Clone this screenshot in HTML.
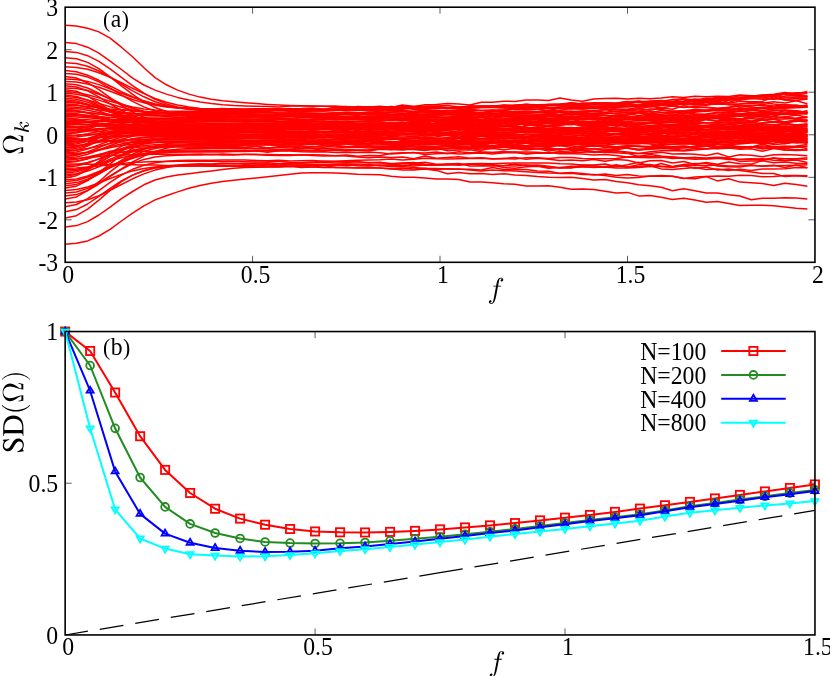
<!DOCTYPE html>
<html><head><meta charset="utf-8"><title>chart</title>
<style>html,body{margin:0;padding:0;background:#fff}svg{display:block;will-change:transform}text{font-family:"Liberation Serif",serif;fill:#000}</style>
</head><body>
<svg width="830" height="676" viewBox="0 0 830 676">
<rect x="0" y="0" width="830" height="676" fill="#fff"/>
<g stroke-width="0.8" stroke="#333" fill="none">
<path d="M65.15,49.7h6.5 M814.9,49.7h-6.5"/>
<path d="M65.15,92.2h6.5 M814.9,92.2h-6.5"/>
<path d="M65.15,134.8h6.5 M814.9,134.8h-6.5"/>
<path d="M65.15,177.3h6.5 M814.9,177.3h-6.5"/>
<path d="M65.15,219.8h6.5 M814.9,219.8h-6.5"/>
<path d="M252.6,262.3v-6.5 M252.6,7.2v6.5"/>
<path d="M440.0,262.3v-6.5 M440.0,7.2v6.5"/>
<path d="M627.5,262.3v-6.5 M627.5,7.2v6.5"/>
</g>
<g fill="none" stroke="#ff0000" stroke-width="1.5" stroke-linejoin="round">
<polyline points="65.2,244.3 76.4,243.3 87.6,240.9 98.9,236.0 110.1,229.4 121.4,221.0 132.6,213.2 143.9,205.9 155.1,199.9 166.4,195.8 177.6,191.9 188.9,188.3 200.1,185.5 211.4,183.3 222.6,181.6 233.8,180.2 245.1,179.1 256.3,178.0 267.6,176.8 278.8,175.5 290.1,174.3 301.3,173.1 312.6,172.7 323.8,172.8 335.1,173.1 346.3,173.4 357.6,174.2 368.8,174.4 380.0,174.8 391.3,176.2 402.5,177.2 413.8,177.2 425.0,178.1 436.3,179.0 447.5,179.1 458.8,179.5 470.0,181.9 481.3,182.0 492.5,182.7 503.8,183.7 515.0,184.2 526.2,186.0 537.5,185.9 548.7,185.7 560.0,187.3 571.2,189.3 582.5,189.1 593.7,189.5 605.0,191.2 616.2,193.1 627.5,192.4 638.7,195.9 650.0,195.6 661.2,197.2 672.4,199.4 683.7,198.2 694.9,200.0 706.2,202.3 717.4,201.5 728.7,203.4 739.9,205.6 751.2,205.2 762.4,205.2 773.7,205.7 784.9,207.1 796.2,208.3 807.4,209.0"/>
<polyline points="65.2,227.0 76.4,225.6 87.6,221.6 98.9,215.0 110.1,207.2 121.4,198.7 132.6,191.5 143.9,184.8 155.1,180.0 166.4,177.1 177.6,175.1 188.9,173.7 200.1,172.3 211.4,170.9 222.6,169.5 233.8,168.3 245.1,167.6 256.3,167.2 267.6,166.9 278.8,167.1 290.1,166.3 301.3,167.4 312.6,167.0 323.8,165.6 335.1,167.6 346.3,167.8 357.6,167.7 368.8,168.0 380.0,167.9 391.3,168.8 402.5,169.9 413.8,169.9 425.0,169.0 436.3,170.4 447.5,173.7 458.8,172.6 470.0,173.8 481.3,173.4 492.5,174.6 503.8,173.7 515.0,174.9 526.2,175.5 537.5,176.5 548.7,177.2 560.0,177.5 571.2,177.3 582.5,178.6 593.7,180.0 605.0,179.6 616.2,181.4 627.5,182.8 638.7,184.7 650.0,185.8 661.2,187.3 672.4,190.8 683.7,188.8 694.9,190.7 706.2,192.9 717.4,193.0 728.7,194.8 739.9,196.0 751.2,199.7 762.4,198.3 773.7,198.3 784.9,197.8 796.2,198.1 807.4,199.0"/>
<polyline points="65.2,218.1 76.4,215.7 87.6,209.2 98.9,200.1 110.1,190.4 121.4,181.7 132.6,175.1 143.9,170.7 155.1,168.1 166.4,166.7 177.6,166.2 188.9,166.0 200.1,165.8 211.4,165.7 222.6,165.6 233.8,166.0 245.1,165.8 256.3,165.5 267.6,164.6 278.8,166.3 290.1,164.8 301.3,165.2 312.6,164.6 323.8,165.0 335.1,164.6 346.3,164.1 357.6,164.9 368.8,165.2 380.0,165.6 391.3,166.7 402.5,166.5 413.8,167.5 425.0,168.4 436.3,168.5 447.5,169.1 458.8,169.0 470.0,170.1 481.3,170.9 492.5,169.9 503.8,170.7 515.0,170.9 526.2,171.7 537.5,172.6 548.7,173.1 560.0,173.3 571.2,172.6 582.5,173.5 593.7,175.0 605.0,174.1 616.2,175.4 627.5,174.4 638.7,175.9 650.0,176.3 661.2,175.6 672.4,176.3 683.7,178.5 694.9,177.0 706.2,176.6 717.4,180.9 728.7,178.7 739.9,182.1 751.2,182.8 762.4,183.4 773.7,185.4 784.9,183.2 796.2,184.6 807.4,186.2"/>
<polyline points="65.2,211.8 76.4,209.6 87.6,204.0 98.9,196.4 110.1,188.4 121.4,181.0 132.6,175.1 143.9,170.7 155.1,167.7 166.4,165.9 177.6,164.9 188.9,164.3 200.1,164.1 211.4,164.4 222.6,163.8 233.8,163.6 245.1,164.3 256.3,163.9 267.6,163.9 278.8,165.0 290.1,164.0 301.3,163.9 312.6,164.6 323.8,164.9 335.1,164.5 346.3,165.8 357.6,165.0 368.8,164.5 380.0,165.7 391.3,164.4 402.5,165.1 413.8,166.0 425.0,164.7 436.3,165.2 447.5,164.3 458.8,165.3 470.0,163.9 481.3,165.3 492.5,164.8 503.8,165.7 515.0,165.9 526.2,165.1 537.5,166.1 548.7,166.9 560.0,167.8 571.2,166.2 582.5,166.6 593.7,167.5 605.0,167.1 616.2,168.1 627.5,167.9 638.7,167.6 650.0,166.4 661.2,166.3 672.4,167.1 683.7,165.5 694.9,165.3 706.2,165.8 717.4,164.9 728.7,166.1 739.9,165.9 751.2,165.4 762.4,165.9 773.7,165.2 784.9,167.5 796.2,165.0 807.4,167.7"/>
<polyline points="65.2,206.8 76.4,204.5 87.6,198.6 98.9,190.7 110.1,182.4 121.4,175.0 132.6,169.3 143.9,165.2 155.1,162.7 166.4,161.3 177.6,160.6 188.9,160.2 200.1,160.3 211.4,160.2 222.6,159.9 233.8,159.9 245.1,160.0 256.3,160.4 267.6,160.7 278.8,160.2 290.1,161.0 301.3,160.8 312.6,160.4 323.8,161.2 335.1,161.3 346.3,160.8 357.6,160.2 368.8,160.0 380.0,159.8 391.3,159.1 402.5,160.0 413.8,159.2 425.0,158.3 436.3,158.7 447.5,158.9 458.8,158.7 470.0,158.6 481.3,158.3 492.5,159.1 503.8,158.4 515.0,157.6 526.2,159.2 537.5,158.3 548.7,159.2 560.0,160.5 571.2,159.9 582.5,160.7 593.7,159.4 605.0,161.2 616.2,159.4 627.5,160.3 638.7,162.9 650.0,160.8 661.2,160.5 672.4,163.0 683.7,161.6 694.9,164.4 706.2,162.5 717.4,164.2 728.7,161.9 739.9,163.8 751.2,164.1 762.4,160.6 773.7,158.1 784.9,160.6 796.2,158.7 807.4,159.2"/>
<polyline points="65.2,202.7 76.4,202.1 87.6,199.7 98.9,195.7 110.1,190.3 121.4,184.5 132.6,178.8 143.9,173.9 155.1,170.1 166.4,167.4 177.6,165.7 188.9,164.7 200.1,164.1 211.4,164.0 222.6,163.2 233.8,163.7 245.1,163.4 256.3,163.3 267.6,162.7 278.8,163.8 290.1,163.1 301.3,163.1 312.6,162.7 323.8,162.6 335.1,163.1 346.3,162.7 357.6,163.0 368.8,162.6 380.0,163.1 391.3,163.5 402.5,163.3 413.8,163.2 425.0,162.2 436.3,164.2 447.5,163.9 458.8,163.4 470.0,166.1 481.3,166.1 492.5,166.0 503.8,165.6 515.0,163.9 526.2,165.6 537.5,165.1 548.7,166.3 560.0,168.1 571.2,168.0 582.5,165.3 593.7,165.8 605.0,166.9 616.2,164.8 627.5,167.0 638.7,164.7 650.0,164.4 661.2,166.6 672.4,167.2 683.7,165.8 694.9,168.2 706.2,167.1 717.4,169.9 728.7,168.9 739.9,170.6 751.2,172.1 762.4,173.6 773.7,173.5 784.9,176.6 796.2,175.7 807.4,176.5"/>
<polyline points="65.2,199.1 76.4,196.9 87.6,190.7 98.9,181.7 110.1,171.9 121.4,163.1 132.6,156.1 143.9,151.3 155.1,148.4 166.4,146.8 177.6,146.1 188.9,145.5 200.1,145.5 211.4,145.6 222.6,145.2 233.8,145.5 245.1,145.3 256.3,144.9 267.6,145.0 278.8,145.2 290.1,145.0 301.3,144.9 312.6,144.0 323.8,144.9 335.1,144.8 346.3,143.4 357.6,144.9 368.8,143.8 380.0,143.9 391.3,144.9 402.5,145.7 413.8,144.7 425.0,144.8 436.3,144.7 447.5,145.5 458.8,145.0 470.0,145.1 481.3,147.0 492.5,145.6 503.8,146.8 515.0,147.7 526.2,147.8 537.5,146.5 548.7,147.4 560.0,149.7 571.2,148.4 582.5,148.7 593.7,148.7 605.0,149.0 616.2,149.8 627.5,147.8 638.7,149.2 650.0,148.7 661.2,148.8 672.4,148.8 683.7,147.4 694.9,147.7 706.2,148.6 717.4,148.7 728.7,148.2 739.9,146.7 751.2,147.3 762.4,147.1 773.7,147.5 784.9,147.2 796.2,146.6 807.4,148.6"/>
<polyline points="65.2,196.0 76.4,194.6 87.6,190.5 98.9,184.0 110.1,176.4 121.4,169.3 132.6,163.5 143.9,159.4 155.1,157.0 166.4,155.8 177.6,155.2 188.9,155.0 200.1,155.1 211.4,154.4 222.6,154.9 233.8,155.1 245.1,154.3 256.3,154.3 267.6,155.3 278.8,155.6 290.1,155.6 301.3,154.8 312.6,155.6 323.8,156.0 335.1,155.7 346.3,155.0 357.6,156.3 368.8,155.5 380.0,155.7 391.3,153.2 402.5,152.8 413.8,152.8 425.0,153.0 436.3,152.0 447.5,153.5 458.8,151.7 470.0,152.7 481.3,152.7 492.5,152.4 503.8,152.4 515.0,151.9 526.2,152.0 537.5,152.3 548.7,153.2 560.0,151.7 571.2,151.9 582.5,150.3 593.7,151.3 605.0,152.0 616.2,149.2 627.5,146.0 638.7,146.5 650.0,146.2 661.2,144.4 672.4,144.1 683.7,143.5 694.9,143.8 706.2,142.8 717.4,142.3 728.7,142.7 739.9,142.9 751.2,141.3 762.4,140.2 773.7,140.3 784.9,140.3 796.2,140.2 807.4,137.9"/>
<polyline points="65.2,193.1 76.4,192.0 87.6,188.4 98.9,182.9 110.1,176.0 121.4,168.8 132.6,162.0 143.9,156.1 155.1,151.5 166.4,148.2 177.6,145.9 188.9,144.5 200.1,143.7 211.4,143.2 222.6,142.9 233.8,142.4 245.1,142.8 256.3,142.3 267.6,142.6 278.8,142.4 290.1,142.8 301.3,141.8 312.6,143.3 323.8,143.0 335.1,143.2 346.3,143.2 357.6,143.4 368.8,143.5 380.0,143.2 391.3,144.6 402.5,143.7 413.8,144.3 425.0,143.3 436.3,144.1 447.5,143.9 458.8,143.3 470.0,142.4 481.3,143.0 492.5,143.3 503.8,142.7 515.0,144.5 526.2,145.5 537.5,144.4 548.7,144.3 560.0,143.0 571.2,142.1 582.5,144.6 593.7,141.2 605.0,141.6 616.2,141.8 627.5,141.8 638.7,139.8 650.0,141.6 661.2,142.0 672.4,141.4 683.7,142.9 694.9,141.3 706.2,142.0 717.4,141.7 728.7,141.7 739.9,143.2 751.2,140.8 762.4,143.0 773.7,140.9 784.9,143.3 796.2,141.1 807.4,142.3"/>
<polyline points="65.2,190.5 76.4,189.6 87.6,186.9 98.9,183.0 110.1,178.5 121.4,174.4 132.6,170.9 143.9,168.5 155.1,166.9 166.4,166.0 177.6,165.6 188.9,165.4 200.1,165.4 211.4,165.6 222.6,166.2 233.8,166.3 245.1,166.0 256.3,166.9 267.6,166.7 278.8,166.8 290.1,166.4 301.3,166.6 312.6,167.0 323.8,167.6 335.1,167.2 346.3,167.6 357.6,168.1 368.8,167.5 380.0,168.1 391.3,169.0 402.5,167.9 413.8,168.9 425.0,168.3 436.3,169.7 447.5,168.7 458.8,169.3 470.0,169.3 481.3,170.1 492.5,167.5 503.8,169.4 515.0,169.5 526.2,169.5 537.5,171.0 548.7,171.3 560.0,173.6 571.2,173.2 582.5,174.5 593.7,174.5 605.0,175.4 616.2,177.3 627.5,178.0 638.7,177.6 650.0,176.1 661.2,176.3 672.4,176.2 683.7,178.2 694.9,178.7 706.2,176.5 717.4,176.1 728.7,176.2 739.9,175.2 751.2,175.6 762.4,176.7 773.7,176.4 784.9,175.4 796.2,175.5 807.4,175.8"/>
<polyline points="65.2,188.0 76.4,186.2 87.6,180.7 98.9,172.7 110.1,163.8 121.4,155.2 132.6,148.2 143.9,143.1 155.1,139.7 166.4,137.6 177.6,136.4 188.9,135.4 200.1,135.2 211.4,135.0 222.6,134.5 233.8,134.0 245.1,134.4 256.3,134.1 267.6,135.0 278.8,135.6 290.1,134.7 301.3,134.9 312.6,135.2 323.8,136.3 335.1,136.7 346.3,136.5 357.6,135.8 368.8,135.0 380.0,134.6 391.3,135.3 402.5,133.9 413.8,133.8 425.0,133.6 436.3,133.7 447.5,134.0 458.8,133.8 470.0,134.5 481.3,134.8 492.5,135.8 503.8,135.2 515.0,135.5 526.2,136.8 537.5,134.4 548.7,134.4 560.0,132.8 571.2,132.9 582.5,132.2 593.7,131.4 605.0,131.2 616.2,131.5 627.5,132.9 638.7,130.2 650.0,133.8 661.2,133.4 672.4,133.1 683.7,133.9 694.9,134.1 706.2,134.1 717.4,133.5 728.7,134.0 739.9,130.9 751.2,134.1 762.4,132.2 773.7,132.3 784.9,132.3 796.2,131.4 807.4,130.6"/>
<polyline points="65.2,185.8 76.4,184.4 87.6,180.2 98.9,174.1 110.1,167.3 121.4,161.2 132.6,156.5 143.9,153.4 155.1,151.6 166.4,150.7 177.6,150.3 188.9,150.1 200.1,150.1 211.4,150.3 222.6,150.3 233.8,150.4 245.1,150.2 256.3,150.7 267.6,150.4 278.8,150.1 290.1,150.4 301.3,150.9 312.6,150.7 323.8,150.4 335.1,150.2 346.3,149.9 357.6,150.4 368.8,150.9 380.0,149.3 391.3,149.8 402.5,149.5 413.8,149.4 425.0,150.0 436.3,149.3 447.5,148.7 458.8,147.9 470.0,148.3 481.3,150.2 492.5,148.0 503.8,147.3 515.0,146.4 526.2,146.6 537.5,145.1 548.7,145.7 560.0,145.6 571.2,145.8 582.5,147.5 593.7,145.7 605.0,145.8 616.2,146.7 627.5,145.8 638.7,145.9 650.0,146.7 661.2,146.4 672.4,146.6 683.7,146.2 694.9,146.9 706.2,146.0 717.4,148.4 728.7,146.9 739.9,148.2 751.2,147.1 762.4,146.0 773.7,146.4 784.9,146.5 796.2,146.1 807.4,144.4"/>
<polyline points="65.2,183.7 76.4,182.6 87.6,179.2 98.9,173.7 110.1,167.1 121.4,160.3 132.6,154.2 143.9,149.4 155.1,145.9 166.4,143.7 177.6,142.5 188.9,141.8 200.1,141.8 211.4,141.9 222.6,142.2 233.8,141.7 245.1,141.2 256.3,141.1 267.6,140.9 278.8,140.8 290.1,140.7 301.3,140.3 312.6,139.8 323.8,140.7 335.1,139.5 346.3,140.7 357.6,140.2 368.8,140.7 380.0,140.8 391.3,141.4 402.5,141.7 413.8,141.3 425.0,141.9 436.3,139.6 447.5,141.3 458.8,141.3 470.0,141.0 481.3,141.2 492.5,142.0 503.8,140.4 515.0,140.0 526.2,141.4 537.5,140.5 548.7,141.6 560.0,140.9 571.2,140.8 582.5,140.7 593.7,140.7 605.0,141.4 616.2,139.7 627.5,140.3 638.7,139.0 650.0,138.0 661.2,138.2 672.4,138.5 683.7,136.3 694.9,137.6 706.2,137.3 717.4,137.5 728.7,135.9 739.9,137.1 751.2,139.5 762.4,136.8 773.7,135.6 784.9,135.9 796.2,138.2 807.4,137.2"/>
<polyline points="65.2,181.6 76.4,180.5 87.6,177.3 98.9,172.8 110.1,167.7 121.4,162.6 132.6,158.2 143.9,154.7 155.1,152.1 166.4,150.3 177.6,149.2 188.9,148.6 200.1,148.2 211.4,148.3 222.6,148.0 233.8,148.5 245.1,148.4 256.3,148.5 267.6,148.7 278.8,149.6 290.1,149.0 301.3,148.4 312.6,148.5 323.8,148.5 335.1,147.9 346.3,147.6 357.6,147.3 368.8,148.0 380.0,147.4 391.3,147.4 402.5,147.7 413.8,148.0 425.0,147.1 436.3,147.6 447.5,145.7 458.8,147.1 470.0,147.2 481.3,147.3 492.5,145.6 503.8,147.5 515.0,146.8 526.2,147.1 537.5,146.5 548.7,146.4 560.0,145.5 571.2,147.5 582.5,146.5 593.7,145.4 605.0,147.4 616.2,147.4 627.5,148.3 638.7,150.1 650.0,148.2 661.2,147.3 672.4,149.0 683.7,150.3 694.9,148.5 706.2,148.7 717.4,147.8 728.7,147.9 739.9,149.2 751.2,148.7 762.4,151.2 773.7,148.6 784.9,149.9 796.2,149.5 807.4,150.1"/>
<polyline points="65.2,179.7 76.4,178.9 87.6,176.0 98.9,171.5 110.1,166.3 121.4,161.5 132.6,157.7 143.9,155.0 155.1,153.4 166.4,152.5 177.6,152.0 188.9,151.6 200.1,151.6 211.4,151.0 222.6,150.9 233.8,150.7 245.1,150.5 256.3,151.1 267.6,152.2 278.8,150.7 290.1,150.3 301.3,150.3 312.6,151.0 323.8,150.6 335.1,150.2 346.3,151.1 357.6,150.2 368.8,149.9 380.0,148.5 391.3,149.6 402.5,148.2 413.8,149.2 425.0,150.4 436.3,148.3 447.5,150.7 458.8,150.1 470.0,149.8 481.3,151.8 492.5,152.6 503.8,151.4 515.0,152.3 526.2,153.4 537.5,153.3 548.7,152.9 560.0,151.8 571.2,152.9 582.5,152.3 593.7,151.7 605.0,152.4 616.2,152.7 627.5,153.4 638.7,156.5 650.0,154.6 661.2,156.1 672.4,157.0 683.7,158.4 694.9,159.3 706.2,159.1 717.4,158.3 728.7,159.6 739.9,159.5 751.2,159.6 762.4,158.7 773.7,160.2 784.9,160.7 796.2,160.0 807.4,162.6"/>
<polyline points="65.2,177.9 76.4,175.7 87.6,170.2 98.9,163.2 110.1,156.3 121.4,150.7 132.6,146.6 143.9,144.0 155.1,142.5 166.4,141.8 177.6,141.5 188.9,141.4 200.1,141.3 211.4,141.7 222.6,141.5 233.8,141.6 245.1,142.1 256.3,142.7 267.6,141.6 278.8,141.6 290.1,140.7 301.3,140.9 312.6,141.0 323.8,140.3 335.1,141.5 346.3,140.7 357.6,140.9 368.8,139.8 380.0,140.6 391.3,142.9 402.5,140.5 413.8,142.1 425.0,141.3 436.3,142.3 447.5,142.0 458.8,141.9 470.0,142.4 481.3,143.2 492.5,141.7 503.8,142.4 515.0,142.8 526.2,142.4 537.5,143.4 548.7,141.7 560.0,143.2 571.2,143.3 582.5,143.5 593.7,144.7 605.0,145.1 616.2,144.1 627.5,144.1 638.7,143.3 650.0,144.1 661.2,145.5 672.4,144.2 683.7,144.1 694.9,144.1 706.2,145.0 717.4,146.9 728.7,145.0 739.9,147.3 751.2,146.5 762.4,149.0 773.7,147.0 784.9,148.8 796.2,146.9 807.4,146.1"/>
<polyline points="65.2,176.2 76.4,174.6 87.6,169.3 98.9,161.4 110.1,153.1 121.4,146.3 132.6,141.8 143.9,139.5 155.1,138.4 166.4,138.0 177.6,137.9 188.9,137.7 200.1,137.7 211.4,137.6 222.6,137.4 233.8,137.5 245.1,137.5 256.3,136.8 267.6,137.5 278.8,137.1 290.1,137.4 301.3,137.7 312.6,137.7 323.8,137.9 335.1,137.5 346.3,137.8 357.6,137.7 368.8,136.8 380.0,137.4 391.3,136.6 402.5,137.0 413.8,136.5 425.0,137.3 436.3,136.7 447.5,135.0 458.8,136.1 470.0,136.0 481.3,136.5 492.5,136.2 503.8,137.7 515.0,137.7 526.2,137.0 537.5,136.9 548.7,138.1 560.0,138.3 571.2,138.7 582.5,138.8 593.7,139.8 605.0,140.2 616.2,139.2 627.5,140.6 638.7,140.0 650.0,139.7 661.2,140.0 672.4,138.8 683.7,139.3 694.9,138.9 706.2,139.7 717.4,139.4 728.7,138.2 739.9,138.3 751.2,139.2 762.4,138.4 773.7,138.7 784.9,138.9 796.2,137.5 807.4,139.6"/>
<polyline points="65.2,174.5 76.4,173.8 87.6,171.1 98.9,166.7 110.1,161.3 121.4,156.1 132.6,151.8 143.9,148.9 155.1,147.1 166.4,146.1 177.6,145.8 188.9,145.7 200.1,146.0 211.4,145.9 222.6,146.6 233.8,146.4 245.1,147.2 256.3,146.3 267.6,147.9 278.8,146.7 290.1,146.8 301.3,147.9 312.6,147.0 323.8,145.8 335.1,145.7 346.3,146.9 357.6,146.0 368.8,146.2 380.0,146.0 391.3,145.8 402.5,144.5 413.8,145.7 425.0,146.2 436.3,146.5 447.5,146.0 458.8,146.0 470.0,147.0 481.3,145.2 492.5,146.6 503.8,145.6 515.0,144.6 526.2,143.0 537.5,144.0 548.7,143.0 560.0,141.7 571.2,141.9 582.5,141.3 593.7,141.2 605.0,141.9 616.2,141.6 627.5,141.3 638.7,142.1 650.0,140.5 661.2,143.5 672.4,142.2 683.7,139.6 694.9,140.0 706.2,140.4 717.4,138.9 728.7,137.7 739.9,138.8 751.2,137.2 762.4,137.9 773.7,137.8 784.9,137.7 796.2,136.5 807.4,138.9"/>
<polyline points="65.2,172.9 76.4,171.7 87.6,168.5 98.9,164.1 110.1,159.3 121.4,154.8 132.6,151.1 143.9,148.4 155.1,146.7 166.4,145.7 177.6,145.1 188.9,144.9 200.1,144.7 211.4,144.6 222.6,144.7 233.8,144.8 245.1,143.9 256.3,144.2 267.6,143.9 278.8,144.2 290.1,145.0 301.3,144.8 312.6,143.8 323.8,145.2 335.1,145.4 346.3,146.5 357.6,146.5 368.8,147.0 380.0,147.5 391.3,147.9 402.5,148.6 413.8,148.8 425.0,148.6 436.3,148.3 447.5,148.5 458.8,147.1 470.0,147.8 481.3,147.6 492.5,148.0 503.8,146.7 515.0,148.3 526.2,148.9 537.5,148.8 548.7,148.1 560.0,150.1 571.2,148.9 582.5,150.6 593.7,152.5 605.0,152.0 616.2,150.7 627.5,153.2 638.7,153.6 650.0,151.8 661.2,150.7 672.4,150.4 683.7,151.0 694.9,149.9 706.2,149.1 717.4,147.7 728.7,146.3 739.9,148.2 751.2,146.8 762.4,148.6 773.7,148.0 784.9,150.1 796.2,150.5 807.4,150.0"/>
<polyline points="65.2,171.3 76.4,170.5 87.6,167.5 98.9,162.5 110.1,156.4 121.4,150.3 132.6,145.3 143.9,141.7 155.1,139.6 166.4,138.4 177.6,138.0 188.9,137.7 200.1,138.0 211.4,137.8 222.6,138.0 233.8,138.2 245.1,138.0 256.3,138.0 267.6,137.5 278.8,138.4 290.1,137.7 301.3,137.6 312.6,136.5 323.8,137.7 335.1,136.5 346.3,137.9 357.6,136.8 368.8,137.1 380.0,136.9 391.3,137.8 402.5,138.7 413.8,138.8 425.0,137.3 436.3,138.3 447.5,139.3 458.8,138.3 470.0,139.6 481.3,139.8 492.5,140.2 503.8,138.6 515.0,137.9 526.2,140.0 537.5,138.9 548.7,138.2 560.0,137.1 571.2,140.5 582.5,138.4 593.7,137.8 605.0,139.6 616.2,138.1 627.5,138.4 638.7,138.2 650.0,139.7 661.2,139.2 672.4,140.7 683.7,140.1 694.9,141.1 706.2,142.1 717.4,143.6 728.7,141.0 739.9,141.8 751.2,142.2 762.4,143.8 773.7,143.3 784.9,141.0 796.2,141.7 807.4,142.9"/>
<polyline points="65.2,169.8 76.4,169.2 87.6,167.3 98.9,164.2 110.1,160.8 121.4,157.7 132.6,155.3 143.9,153.8 155.1,152.9 166.4,152.5 177.6,152.1 188.9,152.0 200.1,152.0 211.4,151.9 222.6,152.1 233.8,151.5 245.1,151.5 256.3,151.0 267.6,151.1 278.8,151.1 290.1,150.9 301.3,151.7 312.6,151.9 323.8,151.8 335.1,152.6 346.3,152.2 357.6,152.6 368.8,152.2 380.0,152.8 391.3,154.1 402.5,153.2 413.8,152.4 425.0,154.5 436.3,153.8 447.5,153.3 458.8,154.1 470.0,153.5 481.3,153.0 492.5,153.9 503.8,152.7 515.0,152.6 526.2,153.9 537.5,153.1 548.7,152.5 560.0,153.8 571.2,153.7 582.5,153.9 593.7,155.0 605.0,154.5 616.2,155.5 627.5,157.1 638.7,156.3 650.0,156.4 661.2,156.9 672.4,158.6 683.7,158.0 694.9,157.5 706.2,158.8 717.4,158.2 728.7,158.2 739.9,159.5 751.2,158.8 762.4,159.6 773.7,158.0 784.9,158.8 796.2,158.8 807.4,157.8"/>
<polyline points="65.2,168.3 76.4,168.0 87.6,167.1 98.9,165.9 110.1,164.7 121.4,163.5 132.6,162.6 143.9,162.0 155.1,161.6 166.4,161.4 177.6,161.3 188.9,161.2 200.1,161.3 211.4,161.2 222.6,161.5 233.8,161.6 245.1,161.7 256.3,161.9 267.6,161.8 278.8,161.2 290.1,162.4 301.3,162.8 312.6,162.0 323.8,161.2 335.1,161.6 346.3,161.4 357.6,161.5 368.8,162.7 380.0,162.3 391.3,164.1 402.5,163.1 413.8,162.6 425.0,164.2 436.3,164.9 447.5,164.9 458.8,164.4 470.0,164.2 481.3,163.7 492.5,164.9 503.8,167.4 515.0,168.3 526.2,166.8 537.5,166.3 548.7,168.3 560.0,167.5 571.2,167.4 582.5,166.9 593.7,167.0 605.0,166.4 616.2,166.0 627.5,166.9 638.7,166.6 650.0,165.8 661.2,168.9 672.4,169.4 683.7,168.4 694.9,167.6 706.2,169.5 717.4,168.9 728.7,170.4 739.9,169.2 751.2,170.6 762.4,169.1 773.7,169.1 784.9,168.8 796.2,167.5 807.4,167.7"/>
<polyline points="65.2,166.9 76.4,166.0 87.6,163.3 98.9,158.9 110.1,153.7 121.4,148.8 132.6,144.7 143.9,141.8 155.1,140.0 166.4,139.0 177.6,138.6 188.9,138.7 200.1,138.4 211.4,138.4 222.6,138.3 233.8,138.9 245.1,138.9 256.3,138.7 267.6,139.1 278.8,139.2 290.1,139.0 301.3,139.7 312.6,138.5 323.8,139.8 335.1,139.4 346.3,139.7 357.6,140.0 368.8,139.4 380.0,139.2 391.3,139.1 402.5,139.7 413.8,140.5 425.0,139.8 436.3,141.4 447.5,140.6 458.8,140.4 470.0,140.4 481.3,141.6 492.5,141.9 503.8,139.7 515.0,141.2 526.2,142.0 537.5,141.6 548.7,140.5 560.0,139.5 571.2,140.3 582.5,139.1 593.7,139.8 605.0,139.4 616.2,138.8 627.5,139.7 638.7,139.0 650.0,139.5 661.2,139.6 672.4,138.4 683.7,139.7 694.9,138.8 706.2,139.6 717.4,139.0 728.7,139.5 739.9,138.0 751.2,139.1 762.4,139.2 773.7,137.7 784.9,142.4 796.2,140.7 807.4,142.5"/>
<polyline points="65.2,165.5 76.4,164.7 87.6,162.4 98.9,159.1 110.1,155.6 121.4,152.4 132.6,149.9 143.9,148.3 155.1,147.5 166.4,147.1 177.6,147.1 188.9,147.3 200.1,147.1 211.4,147.5 222.6,147.4 233.8,147.2 245.1,147.4 256.3,146.4 267.6,147.9 278.8,147.5 290.1,147.0 301.3,146.2 312.6,146.8 323.8,147.2 335.1,145.7 346.3,146.7 357.6,146.3 368.8,145.7 380.0,146.6 391.3,146.5 402.5,146.0 413.8,146.5 425.0,146.3 436.3,147.2 447.5,146.7 458.8,147.5 470.0,147.9 481.3,145.8 492.5,146.8 503.8,146.7 515.0,148.3 526.2,147.9 537.5,148.5 548.7,149.8 560.0,148.8 571.2,150.2 582.5,150.4 593.7,151.9 605.0,150.4 616.2,151.1 627.5,151.9 638.7,153.4 650.0,153.5 661.2,152.3 672.4,154.0 683.7,153.8 694.9,154.2 706.2,155.6 717.4,153.3 728.7,156.9 739.9,154.8 751.2,155.2 762.4,156.8 773.7,154.8 784.9,154.5 796.2,154.9 807.4,155.7"/>
<polyline points="65.2,164.1 76.4,164.1 87.6,164.2 98.9,164.3 110.1,164.4 121.4,164.6 132.6,164.7 143.9,164.9 155.1,165.1 166.4,165.4 177.6,165.7 188.9,166.1 200.1,166.0 211.4,166.2 222.6,166.2 233.8,166.2 245.1,166.8 256.3,165.2 267.6,165.9 278.8,165.7 290.1,166.5 301.3,165.2 312.6,165.2 323.8,165.5 335.1,165.2 346.3,164.7 357.6,165.7 368.8,166.1 380.0,164.9 391.3,165.6 402.5,165.8 413.8,164.2 425.0,165.3 436.3,165.2 447.5,164.5 458.8,164.6 470.0,163.8 481.3,163.5 492.5,163.8 503.8,163.3 515.0,162.9 526.2,162.9 537.5,162.9 548.7,163.0 560.0,163.8 571.2,163.9 582.5,164.9 593.7,165.0 605.0,164.1 616.2,166.7 627.5,164.8 638.7,162.3 650.0,166.6 661.2,163.5 672.4,166.4 683.7,164.5 694.9,163.4 706.2,163.6 717.4,166.1 728.7,166.7 739.9,167.0 751.2,165.1 762.4,166.2 773.7,165.8 784.9,165.5 796.2,165.2 807.4,164.8"/>
<polyline points="65.2,162.8 76.4,161.6 87.6,158.5 98.9,154.6 110.1,151.2 121.4,148.9 132.6,147.6 143.9,146.9 155.1,146.5 166.4,146.3 177.6,146.0 188.9,145.7 200.1,145.7 211.4,145.8 222.6,145.6 233.8,145.0 245.1,144.8 256.3,144.7 267.6,144.7 278.8,145.3 290.1,144.4 301.3,144.1 312.6,144.8 323.8,143.8 335.1,144.3 346.3,143.8 357.6,143.5 368.8,144.3 380.0,142.5 391.3,143.7 402.5,143.2 413.8,143.5 425.0,143.1 436.3,143.3 447.5,143.9 458.8,143.3 470.0,144.3 481.3,145.1 492.5,147.1 503.8,145.5 515.0,145.6 526.2,146.2 537.5,146.2 548.7,145.1 560.0,144.8 571.2,144.1 582.5,144.8 593.7,146.4 605.0,145.8 616.2,147.3 627.5,145.8 638.7,146.4 650.0,147.5 661.2,147.3 672.4,147.5 683.7,148.0 694.9,146.1 706.2,144.3 717.4,146.3 728.7,145.9 739.9,146.6 751.2,146.9 762.4,144.3 773.7,146.9 784.9,146.2 796.2,146.9 807.4,146.4"/>
<polyline points="65.2,161.5 76.4,160.9 87.6,158.9 98.9,155.9 110.1,152.5 121.4,149.4 132.6,147.1 143.9,145.6 155.1,144.7 166.4,144.2 177.6,143.9 188.9,143.7 200.1,143.2 211.4,143.0 222.6,143.3 233.8,143.0 245.1,142.6 256.3,143.4 267.6,143.2 278.8,142.4 290.1,143.3 301.3,143.3 312.6,143.8 323.8,143.6 335.1,142.9 346.3,143.8 357.6,144.1 368.8,143.8 380.0,142.5 391.3,143.4 402.5,143.9 413.8,143.6 425.0,143.5 436.3,143.8 447.5,145.2 458.8,144.0 470.0,144.4 481.3,143.9 492.5,145.5 503.8,143.9 515.0,145.0 526.2,145.9 537.5,143.5 548.7,144.8 560.0,143.8 571.2,144.0 582.5,142.7 593.7,142.3 605.0,142.0 616.2,142.0 627.5,143.8 638.7,143.8 650.0,142.1 661.2,143.2 672.4,142.0 683.7,142.5 694.9,144.2 706.2,144.1 717.4,144.5 728.7,144.5 739.9,143.9 751.2,143.1 762.4,142.3 773.7,144.5 784.9,143.8 796.2,141.2 807.4,141.4"/>
<polyline points="65.2,160.2 76.4,159.2 87.6,156.9 98.9,154.6 110.1,152.9 121.4,151.9 132.6,151.6 143.9,151.5 155.1,151.4 166.4,151.4 177.6,151.3 188.9,151.2 200.1,151.2 211.4,151.0 222.6,150.8 233.8,150.5 245.1,150.9 256.3,150.1 267.6,150.5 278.8,149.4 290.1,149.4 301.3,150.2 312.6,150.3 323.8,148.6 335.1,149.5 346.3,149.4 357.6,149.9 368.8,149.7 380.0,149.1 391.3,149.1 402.5,149.9 413.8,148.6 425.0,149.0 436.3,149.8 447.5,148.4 458.8,149.0 470.0,148.3 481.3,149.1 492.5,148.4 503.8,149.8 515.0,148.4 526.2,149.9 537.5,148.8 548.7,151.0 560.0,149.3 571.2,148.9 582.5,149.2 593.7,148.7 605.0,150.6 616.2,148.3 627.5,148.0 638.7,150.1 650.0,149.2 661.2,148.3 672.4,147.0 683.7,146.0 694.9,147.6 706.2,143.9 717.4,143.9 728.7,143.9 739.9,141.4 751.2,142.3 762.4,140.5 773.7,140.9 784.9,141.7 796.2,140.1 807.4,140.5"/>
<polyline points="65.2,158.9 76.4,158.5 87.6,157.6 98.9,156.5 110.1,155.6 121.4,155.0 132.6,154.7 143.9,154.5 155.1,154.3 166.4,154.2 177.6,154.2 188.9,154.2 200.1,154.0 211.4,154.5 222.6,154.1 233.8,154.6 245.1,154.6 256.3,154.7 267.6,154.5 278.8,154.7 290.1,154.8 301.3,155.1 312.6,154.8 323.8,155.0 335.1,155.8 346.3,156.0 357.6,157.0 368.8,157.7 380.0,156.9 391.3,157.4 402.5,157.0 413.8,158.7 425.0,155.9 436.3,158.3 447.5,157.4 458.8,156.7 470.0,158.3 481.3,157.7 492.5,158.8 503.8,158.5 515.0,159.1 526.2,157.8 537.5,157.8 548.7,158.5 560.0,157.5 571.2,157.5 582.5,158.6 593.7,158.7 605.0,158.7 616.2,158.6 627.5,156.9 638.7,157.6 650.0,157.8 661.2,157.6 672.4,156.9 683.7,157.8 694.9,157.4 706.2,158.1 717.4,157.3 728.7,158.1 739.9,161.4 751.2,160.9 762.4,160.8 773.7,162.7 784.9,162.1 796.2,163.2 807.4,163.5"/>
<polyline points="65.2,157.7 76.4,156.9 87.6,154.2 98.9,150.1 110.1,145.5 121.4,141.5 132.6,138.8 143.9,137.2 155.1,136.5 166.4,136.2 177.6,136.0 188.9,135.9 200.1,136.2 211.4,136.2 222.6,136.3 233.8,136.9 245.1,136.1 256.3,136.3 267.6,136.4 278.8,136.4 290.1,136.4 301.3,135.4 312.6,136.6 323.8,136.4 335.1,137.3 346.3,137.1 357.6,137.7 368.8,137.8 380.0,138.5 391.3,138.7 402.5,138.1 413.8,138.1 425.0,138.3 436.3,139.1 447.5,138.5 458.8,140.4 470.0,138.0 481.3,138.7 492.5,138.5 503.8,137.9 515.0,139.1 526.2,138.2 537.5,139.3 548.7,138.7 560.0,139.6 571.2,139.2 582.5,138.4 593.7,140.1 605.0,140.1 616.2,139.9 627.5,139.3 638.7,137.1 650.0,140.0 661.2,141.3 672.4,140.1 683.7,141.1 694.9,140.4 706.2,140.2 717.4,141.4 728.7,141.6 739.9,143.1 751.2,141.4 762.4,142.6 773.7,140.9 784.9,141.0 796.2,142.9 807.4,142.2"/>
<polyline points="65.2,156.4 76.4,155.2 87.6,151.9 98.9,147.5 110.1,143.1 121.4,139.2 132.6,136.3 143.9,134.4 155.1,133.2 166.4,132.6 177.6,132.2 188.9,132.0 200.1,131.9 211.4,132.3 222.6,132.0 233.8,131.8 245.1,131.5 256.3,131.3 267.6,132.2 278.8,131.0 290.1,131.9 301.3,131.8 312.6,132.4 323.8,132.5 335.1,131.6 346.3,132.5 357.6,132.6 368.8,132.0 380.0,131.8 391.3,133.8 402.5,133.1 413.8,133.1 425.0,132.0 436.3,131.6 447.5,133.3 458.8,133.1 470.0,132.9 481.3,132.9 492.5,134.1 503.8,133.6 515.0,135.0 526.2,136.8 537.5,136.3 548.7,135.4 560.0,135.4 571.2,138.1 582.5,138.1 593.7,136.9 605.0,139.8 616.2,136.7 627.5,136.3 638.7,139.8 650.0,136.5 661.2,137.3 672.4,135.9 683.7,136.9 694.9,137.5 706.2,137.4 717.4,136.8 728.7,137.9 739.9,138.4 751.2,140.4 762.4,138.9 773.7,139.9 784.9,138.5 796.2,140.8 807.4,141.2"/>
<polyline points="65.2,155.2 76.4,154.5 87.6,152.4 98.9,149.5 110.1,146.5 121.4,144.0 132.6,142.1 143.9,140.9 155.1,140.2 166.4,139.9 177.6,139.7 188.9,139.7 200.1,139.5 211.4,139.5 222.6,138.9 233.8,139.1 245.1,138.5 256.3,138.4 267.6,138.7 278.8,137.9 290.1,137.6 301.3,138.5 312.6,137.5 323.8,136.0 335.1,138.0 346.3,137.6 357.6,138.9 368.8,138.1 380.0,139.0 391.3,138.6 402.5,139.4 413.8,140.5 425.0,139.4 436.3,140.6 447.5,141.4 458.8,141.0 470.0,141.9 481.3,141.2 492.5,141.6 503.8,141.9 515.0,141.2 526.2,142.7 537.5,141.1 548.7,143.4 560.0,140.6 571.2,141.8 582.5,142.2 593.7,142.7 605.0,141.7 616.2,142.4 627.5,142.6 638.7,141.6 650.0,143.0 661.2,142.8 672.4,142.2 683.7,141.5 694.9,142.5 706.2,142.0 717.4,141.8 728.7,140.8 739.9,139.7 751.2,141.7 762.4,140.5 773.7,140.1 784.9,139.1 796.2,137.8 807.4,139.2"/>
<polyline points="65.2,154.0 76.4,153.6 87.6,152.3 98.9,150.2 110.1,147.8 121.4,145.6 132.6,143.9 143.9,142.8 155.1,142.1 166.4,141.7 177.6,141.4 188.9,141.5 200.1,141.4 211.4,141.7 222.6,141.7 233.8,141.8 245.1,142.1 256.3,141.6 267.6,142.7 278.8,141.6 290.1,140.6 301.3,142.1 312.6,141.6 323.8,142.2 335.1,141.3 346.3,142.1 357.6,140.8 368.8,141.4 380.0,142.3 391.3,142.1 402.5,142.5 413.8,142.0 425.0,141.5 436.3,142.6 447.5,143.3 458.8,143.2 470.0,142.7 481.3,144.5 492.5,142.3 503.8,142.4 515.0,144.4 526.2,141.6 537.5,143.6 548.7,142.5 560.0,141.4 571.2,143.7 582.5,143.9 593.7,143.4 605.0,143.4 616.2,142.7 627.5,143.0 638.7,142.9 650.0,142.7 661.2,142.3 672.4,142.7 683.7,141.3 694.9,141.4 706.2,142.2 717.4,139.4 728.7,142.5 739.9,140.6 751.2,142.2 762.4,141.4 773.7,141.4 784.9,141.3 796.2,140.9 807.4,143.3"/>
<polyline points="65.2,152.9 76.4,151.9 87.6,149.0 98.9,144.9 110.1,140.7 121.4,137.3 132.6,135.0 143.9,133.7 155.1,133.2 166.4,133.0 177.6,133.0 188.9,133.2 200.1,133.1 211.4,133.7 222.6,133.5 233.8,132.6 245.1,132.6 256.3,133.1 267.6,132.8 278.8,132.7 290.1,132.1 301.3,132.9 312.6,132.8 323.8,132.6 335.1,132.2 346.3,132.1 357.6,132.5 368.8,131.9 380.0,133.1 391.3,132.8 402.5,133.4 413.8,133.9 425.0,132.8 436.3,134.2 447.5,135.0 458.8,134.7 470.0,135.9 481.3,135.2 492.5,135.4 503.8,135.6 515.0,137.5 526.2,137.1 537.5,135.9 548.7,137.6 560.0,136.6 571.2,136.5 582.5,138.8 593.7,136.7 605.0,136.9 616.2,136.7 627.5,135.7 638.7,136.6 650.0,136.6 661.2,135.8 672.4,136.3 683.7,135.2 694.9,137.2 706.2,133.3 717.4,135.2 728.7,133.8 739.9,133.8 751.2,133.8 762.4,133.6 773.7,133.6 784.9,135.4 796.2,134.2 807.4,132.5"/>
<polyline points="65.2,151.7 76.4,150.2 87.6,146.1 98.9,140.8 110.1,136.2 121.4,133.3 132.6,131.8 143.9,131.3 155.1,131.2 166.4,131.2 177.6,131.3 188.9,131.4 200.1,131.4 211.4,131.3 222.6,131.2 233.8,131.6 245.1,131.2 256.3,131.6 267.6,130.8 278.8,131.9 290.1,131.4 301.3,131.2 312.6,132.3 323.8,131.6 335.1,131.7 346.3,132.3 357.6,132.0 368.8,131.4 380.0,131.7 391.3,132.0 402.5,131.7 413.8,131.1 425.0,130.3 436.3,130.3 447.5,130.0 458.8,129.1 470.0,131.0 481.3,130.7 492.5,131.2 503.8,128.9 515.0,131.1 526.2,129.5 537.5,128.9 548.7,130.5 560.0,130.0 571.2,129.7 582.5,128.9 593.7,130.7 605.0,129.2 616.2,128.8 627.5,129.2 638.7,129.2 650.0,128.2 661.2,129.1 672.4,129.4 683.7,129.8 694.9,129.0 706.2,130.0 717.4,129.2 728.7,129.9 739.9,128.9 751.2,130.8 762.4,129.9 773.7,129.5 784.9,129.3 796.2,128.5 807.4,129.1"/>
<polyline points="65.2,150.6 76.4,150.1 87.6,148.6 98.9,146.2 110.1,143.5 121.4,140.9 132.6,139.0 143.9,137.7 155.1,137.0 166.4,136.8 177.6,136.7 188.9,136.8 200.1,136.8 211.4,136.8 222.6,136.7 233.8,136.0 245.1,136.7 256.3,136.7 267.6,136.5 278.8,136.5 290.1,137.3 301.3,137.7 312.6,137.4 323.8,137.5 335.1,138.1 346.3,138.5 357.6,138.7 368.8,138.6 380.0,138.6 391.3,139.6 402.5,138.9 413.8,138.3 425.0,138.4 436.3,139.0 447.5,138.2 458.8,137.8 470.0,137.1 481.3,138.6 492.5,136.9 503.8,137.7 515.0,137.3 526.2,137.0 537.5,138.2 548.7,138.2 560.0,137.8 571.2,137.2 582.5,138.2 593.7,138.9 605.0,138.4 616.2,137.5 627.5,136.8 638.7,138.2 650.0,138.1 661.2,138.0 672.4,138.0 683.7,138.8 694.9,138.3 706.2,137.6 717.4,137.6 728.7,137.6 739.9,138.3 751.2,137.7 762.4,137.6 773.7,135.5 784.9,134.9 796.2,135.9 807.4,134.6"/>
<polyline points="65.2,149.4 76.4,148.4 87.6,145.3 98.9,141.0 110.1,137.0 121.4,134.1 132.6,132.5 143.9,131.9 155.1,131.6 166.4,131.5 177.6,131.6 188.9,131.5 200.1,131.6 211.4,131.5 222.6,131.6 233.8,131.8 245.1,131.2 256.3,131.5 267.6,131.0 278.8,131.7 290.1,131.4 301.3,131.2 312.6,132.4 323.8,132.2 335.1,131.1 346.3,131.5 357.6,132.5 368.8,132.0 380.0,132.2 391.3,131.9 402.5,130.8 413.8,132.0 425.0,130.5 436.3,131.9 447.5,132.3 458.8,130.8 470.0,131.2 481.3,130.9 492.5,130.5 503.8,131.0 515.0,130.9 526.2,133.0 537.5,132.3 548.7,131.2 560.0,131.3 571.2,130.9 582.5,131.7 593.7,130.4 605.0,129.6 616.2,130.7 627.5,130.5 638.7,130.7 650.0,130.4 661.2,131.0 672.4,131.6 683.7,131.0 694.9,131.1 706.2,132.7 717.4,131.0 728.7,131.2 739.9,131.0 751.2,131.7 762.4,130.7 773.7,130.5 784.9,131.7 796.2,130.6 807.4,130.0"/>
<polyline points="65.2,148.3 76.4,147.1 87.6,143.3 98.9,138.0 110.1,133.4 121.4,130.6 132.6,129.4 143.9,129.1 155.1,129.2 166.4,129.3 177.6,129.6 188.9,129.6 200.1,129.9 211.4,129.9 222.6,130.2 233.8,130.0 245.1,130.1 256.3,130.0 267.6,129.7 278.8,129.6 290.1,129.5 301.3,129.2 312.6,129.6 323.8,128.7 335.1,129.4 346.3,129.1 357.6,127.8 368.8,127.4 380.0,126.2 391.3,126.4 402.5,126.0 413.8,126.7 425.0,126.2 436.3,125.8 447.5,126.2 458.8,126.5 470.0,126.8 481.3,127.7 492.5,127.9 503.8,128.6 515.0,127.6 526.2,128.3 537.5,128.9 548.7,128.4 560.0,129.3 571.2,128.3 582.5,127.8 593.7,129.0 605.0,130.1 616.2,130.8 627.5,128.0 638.7,129.3 650.0,130.7 661.2,128.7 672.4,131.1 683.7,129.9 694.9,129.6 706.2,129.6 717.4,130.1 728.7,126.6 739.9,129.0 751.2,127.9 762.4,127.9 773.7,129.1 784.9,127.6 796.2,126.4 807.4,125.1"/>
<polyline points="65.2,147.2 76.4,146.4 87.6,144.2 98.9,141.3 110.1,138.4 121.4,136.2 132.6,134.8 143.9,134.1 155.1,133.8 166.4,133.8 177.6,134.0 188.9,134.2 200.1,134.3 211.4,134.7 222.6,134.1 233.8,134.5 245.1,134.0 256.3,134.5 267.6,133.6 278.8,133.5 290.1,133.6 301.3,133.6 312.6,133.6 323.8,132.2 335.1,132.6 346.3,133.3 357.6,133.6 368.8,134.4 380.0,135.3 391.3,135.5 402.5,134.9 413.8,134.7 425.0,135.1 436.3,133.6 447.5,133.3 458.8,133.0 470.0,133.8 481.3,132.2 492.5,131.7 503.8,132.3 515.0,132.9 526.2,130.1 537.5,131.3 548.7,132.5 560.0,131.5 571.2,132.4 582.5,133.4 593.7,134.0 605.0,133.9 616.2,133.4 627.5,134.6 638.7,134.7 650.0,133.7 661.2,136.5 672.4,133.6 683.7,133.9 694.9,133.5 706.2,133.7 717.4,133.4 728.7,134.0 739.9,134.4 751.2,135.0 762.4,134.8 773.7,136.0 784.9,134.7 796.2,137.5 807.4,135.5"/>
<polyline points="65.2,146.1 76.4,145.4 87.6,143.9 98.9,142.2 110.1,140.9 121.4,140.1 132.6,139.7 143.9,139.6 155.1,139.5 166.4,139.5 177.6,139.5 188.9,139.5 200.1,139.7 211.4,139.8 222.6,139.7 233.8,140.1 245.1,140.4 256.3,140.7 267.6,140.3 278.8,140.7 290.1,140.4 301.3,141.5 312.6,141.6 323.8,141.8 335.1,141.5 346.3,142.0 357.6,141.1 368.8,141.4 380.0,142.1 391.3,143.2 402.5,142.5 413.8,140.4 425.0,141.3 436.3,141.1 447.5,141.4 458.8,140.8 470.0,142.3 481.3,142.3 492.5,142.1 503.8,140.9 515.0,140.4 526.2,140.5 537.5,140.9 548.7,141.7 560.0,140.1 571.2,140.8 582.5,140.6 593.7,140.5 605.0,140.8 616.2,141.0 627.5,140.8 638.7,141.4 650.0,140.1 661.2,140.5 672.4,139.5 683.7,142.2 694.9,139.6 706.2,140.9 717.4,141.1 728.7,141.8 739.9,141.8 751.2,142.5 762.4,140.1 773.7,141.1 784.9,140.0 796.2,139.6 807.4,140.7"/>
<polyline points="65.2,145.0 76.4,144.0 87.6,141.2 98.9,137.5 110.1,134.2 121.4,131.9 132.6,130.7 143.9,130.2 155.1,130.0 166.4,129.9 177.6,129.8 188.9,129.6 200.1,129.8 211.4,129.9 222.6,129.5 233.8,129.7 245.1,129.8 256.3,130.5 267.6,129.8 278.8,130.8 290.1,132.0 301.3,132.0 312.6,132.1 323.8,132.0 335.1,131.7 346.3,132.5 357.6,132.3 368.8,130.6 380.0,131.4 391.3,131.3 402.5,130.4 413.8,130.7 425.0,129.0 436.3,128.3 447.5,129.0 458.8,127.8 470.0,128.7 481.3,128.5 492.5,129.6 503.8,130.2 515.0,131.3 526.2,130.7 537.5,131.7 548.7,132.3 560.0,133.5 571.2,134.0 582.5,133.8 593.7,133.1 605.0,133.3 616.2,134.2 627.5,133.4 638.7,132.1 650.0,133.6 661.2,132.0 672.4,133.5 683.7,132.9 694.9,134.9 706.2,133.5 717.4,136.0 728.7,134.8 739.9,135.5 751.2,137.2 762.4,136.6 773.7,133.9 784.9,134.5 796.2,133.5 807.4,134.5"/>
<polyline points="65.2,143.9 76.4,142.7 87.6,139.5 98.9,135.8 110.1,133.1 121.4,131.7 132.6,131.1 143.9,130.9 155.1,130.8 166.4,130.7 177.6,130.5 188.9,130.3 200.1,130.4 211.4,130.3 222.6,130.7 233.8,130.5 245.1,130.5 256.3,130.2 267.6,130.9 278.8,131.6 290.1,131.4 301.3,131.8 312.6,131.1 323.8,131.6 335.1,131.9 346.3,132.0 357.6,131.7 368.8,132.4 380.0,132.6 391.3,133.1 402.5,131.2 413.8,131.5 425.0,131.3 436.3,131.6 447.5,130.5 458.8,132.3 470.0,130.9 481.3,132.4 492.5,132.3 503.8,133.1 515.0,132.3 526.2,132.8 537.5,132.5 548.7,133.5 560.0,134.4 571.2,133.1 582.5,132.7 593.7,133.4 605.0,134.2 616.2,134.1 627.5,136.1 638.7,135.2 650.0,134.2 661.2,135.1 672.4,136.5 683.7,135.2 694.9,136.3 706.2,135.6 717.4,137.7 728.7,136.9 739.9,136.1 751.2,136.0 762.4,135.7 773.7,136.2 784.9,136.3 796.2,135.5 807.4,135.1"/>
<polyline points="65.2,142.8 76.4,141.6 87.6,138.5 98.9,134.7 110.1,131.4 121.4,129.3 132.6,128.2 143.9,127.9 155.1,127.9 166.4,128.0 177.6,128.3 188.9,128.5 200.1,128.6 211.4,128.8 222.6,129.2 233.8,129.0 245.1,128.9 256.3,129.3 267.6,129.1 278.8,127.8 290.1,129.0 301.3,127.5 312.6,127.3 323.8,126.0 335.1,126.1 346.3,126.5 357.6,125.2 368.8,126.1 380.0,124.6 391.3,124.9 402.5,126.1 413.8,125.9 425.0,126.6 436.3,127.6 447.5,126.8 458.8,127.6 470.0,127.6 481.3,127.8 492.5,127.7 503.8,128.2 515.0,129.1 526.2,129.0 537.5,128.8 548.7,129.2 560.0,129.3 571.2,127.7 582.5,128.8 593.7,127.6 605.0,129.9 616.2,129.3 627.5,129.7 638.7,129.8 650.0,129.8 661.2,129.7 672.4,130.0 683.7,127.9 694.9,128.9 706.2,130.2 717.4,129.9 728.7,128.6 739.9,128.7 751.2,129.8 762.4,128.2 773.7,130.5 784.9,129.6 796.2,127.4 807.4,131.9"/>
<polyline points="65.2,141.7 76.4,141.6 87.6,141.3 98.9,141.0 110.1,140.6 121.4,140.4 132.6,140.1 143.9,140.0 155.1,139.9 166.4,139.8 177.6,139.8 188.9,139.9 200.1,139.9 211.4,140.3 222.6,140.2 233.8,140.4 245.1,140.9 256.3,140.3 267.6,140.5 278.8,141.0 290.1,141.1 301.3,140.9 312.6,141.9 323.8,142.7 335.1,142.7 346.3,141.9 357.6,142.3 368.8,143.3 380.0,141.8 391.3,142.5 402.5,141.6 413.8,141.9 425.0,142.8 436.3,142.4 447.5,142.9 458.8,142.8 470.0,142.3 481.3,141.5 492.5,140.7 503.8,142.0 515.0,140.6 526.2,140.7 537.5,140.6 548.7,139.3 560.0,140.1 571.2,138.6 582.5,139.7 593.7,140.0 605.0,138.6 616.2,140.5 627.5,140.3 638.7,139.6 650.0,139.6 661.2,140.1 672.4,141.8 683.7,141.5 694.9,140.1 706.2,140.4 717.4,142.1 728.7,141.2 739.9,141.6 751.2,141.1 762.4,143.1 773.7,141.2 784.9,143.4 796.2,141.9 807.4,142.7"/>
<polyline points="65.2,140.6 76.4,140.1 87.6,138.8 98.9,137.3 110.1,136.1 121.4,135.4 132.6,135.0 143.9,134.9 155.1,134.9 166.4,134.9 177.6,134.9 188.9,134.9 200.1,134.9 211.4,134.9 222.6,134.5 233.8,134.7 245.1,134.9 256.3,135.3 267.6,134.7 278.8,135.0 290.1,135.0 301.3,134.6 312.6,134.8 323.8,135.2 335.1,135.1 346.3,135.1 357.6,134.8 368.8,134.8 380.0,135.1 391.3,135.6 402.5,134.7 413.8,134.6 425.0,135.9 436.3,135.1 447.5,135.7 458.8,137.0 470.0,135.6 481.3,135.0 492.5,136.2 503.8,136.2 515.0,134.9 526.2,136.4 537.5,136.2 548.7,135.7 560.0,134.9 571.2,134.8 582.5,135.7 593.7,135.7 605.0,135.5 616.2,136.0 627.5,136.6 638.7,137.0 650.0,135.6 661.2,136.5 672.4,133.8 683.7,135.8 694.9,136.9 706.2,136.0 717.4,135.5 728.7,135.2 739.9,135.0 751.2,134.9 762.4,135.6 773.7,135.1 784.9,133.9 796.2,137.2 807.4,138.0"/>
<polyline points="65.2,139.6 76.4,139.4 87.6,138.7 98.9,137.8 110.1,136.8 121.4,136.0 132.6,135.5 143.9,135.2 155.1,135.1 166.4,135.1 177.6,135.1 188.9,135.3 200.1,135.5 211.4,135.9 222.6,136.1 233.8,135.9 245.1,135.8 256.3,136.1 267.6,136.4 278.8,136.0 290.1,136.9 301.3,136.4 312.6,136.1 323.8,135.9 335.1,136.1 346.3,136.1 357.6,136.8 368.8,136.8 380.0,136.7 391.3,138.3 402.5,138.3 413.8,138.2 425.0,137.4 436.3,138.2 447.5,137.7 458.8,137.9 470.0,139.1 481.3,138.7 492.5,139.2 503.8,137.3 515.0,137.3 526.2,137.1 537.5,136.7 548.7,136.7 560.0,136.7 571.2,136.6 582.5,135.8 593.7,137.5 605.0,137.9 616.2,137.2 627.5,136.4 638.7,137.4 650.0,138.0 661.2,137.2 672.4,138.0 683.7,139.9 694.9,139.2 706.2,140.2 717.4,138.3 728.7,138.4 739.9,137.4 751.2,135.5 762.4,137.9 773.7,136.9 784.9,136.9 796.2,139.1 807.4,136.5"/>
<polyline points="65.2,138.5 76.4,138.8 87.6,139.5 98.9,140.5 110.1,141.3 121.4,141.9 132.6,142.2 143.9,142.4 155.1,142.4 166.4,142.5 177.6,142.6 188.9,142.7 200.1,142.9 211.4,142.7 222.6,142.8 233.8,142.9 245.1,143.3 256.3,143.4 267.6,143.4 278.8,142.8 290.1,143.9 301.3,143.5 312.6,142.9 323.8,143.4 335.1,143.1 346.3,143.9 357.6,144.0 368.8,143.6 380.0,144.0 391.3,144.1 402.5,144.4 413.8,144.8 425.0,142.7 436.3,143.6 447.5,143.6 458.8,142.3 470.0,143.3 481.3,143.5 492.5,143.0 503.8,142.8 515.0,142.8 526.2,143.0 537.5,142.9 548.7,144.1 560.0,144.0 571.2,144.5 582.5,144.9 593.7,143.9 605.0,143.6 616.2,141.8 627.5,142.3 638.7,142.7 650.0,140.9 661.2,141.0 672.4,138.8 683.7,141.3 694.9,140.1 706.2,140.0 717.4,139.3 728.7,139.6 739.9,141.3 751.2,141.8 762.4,139.9 773.7,138.7 784.9,138.7 796.2,140.5 807.4,139.4"/>
<polyline points="65.2,137.4 76.4,137.0 87.6,135.6 98.9,133.7 110.1,131.8 121.4,130.5 132.6,129.8 143.9,129.6 155.1,129.5 166.4,129.5 177.6,129.4 188.9,129.4 200.1,129.5 211.4,129.5 222.6,129.7 233.8,129.5 245.1,130.1 256.3,129.6 267.6,129.8 278.8,130.1 290.1,129.7 301.3,129.5 312.6,129.8 323.8,129.1 335.1,130.0 346.3,129.2 357.6,129.4 368.8,130.3 380.0,129.4 391.3,131.3 402.5,130.5 413.8,131.0 425.0,130.9 436.3,132.7 447.5,132.8 458.8,132.9 470.0,132.7 481.3,132.9 492.5,133.2 503.8,133.6 515.0,134.1 526.2,134.7 537.5,134.1 548.7,133.5 560.0,133.1 571.2,134.3 582.5,133.0 593.7,134.9 605.0,133.1 616.2,134.5 627.5,133.3 638.7,134.2 650.0,134.2 661.2,133.7 672.4,132.0 683.7,133.8 694.9,132.6 706.2,133.0 717.4,132.8 728.7,132.8 739.9,132.6 751.2,134.4 762.4,133.3 773.7,133.1 784.9,134.1 796.2,133.3 807.4,134.8"/>
<polyline points="65.2,136.3 76.4,135.7 87.6,133.8 98.9,131.4 110.1,129.7 121.4,128.7 132.6,128.4 143.9,128.3 155.1,128.2 166.4,128.2 177.6,128.2 188.9,128.1 200.1,128.1 211.4,128.1 222.6,128.1 233.8,127.8 245.1,128.6 256.3,127.9 267.6,128.7 278.8,129.1 290.1,129.4 301.3,128.3 312.6,129.3 323.8,127.9 335.1,127.9 346.3,128.0 357.6,127.7 368.8,126.7 380.0,126.5 391.3,125.9 402.5,126.2 413.8,126.5 425.0,126.0 436.3,127.3 447.5,126.4 458.8,127.4 470.0,128.6 481.3,129.1 492.5,129.2 503.8,130.7 515.0,128.8 526.2,129.4 537.5,131.1 548.7,130.5 560.0,129.2 571.2,130.2 582.5,131.3 593.7,132.2 605.0,131.9 616.2,129.6 627.5,130.5 638.7,132.1 650.0,130.7 661.2,132.0 672.4,132.6 683.7,132.9 694.9,133.3 706.2,131.8 717.4,134.7 728.7,134.7 739.9,133.5 751.2,133.9 762.4,136.9 773.7,134.4 784.9,135.9 796.2,139.1 807.4,136.3"/>
<polyline points="65.2,135.3 76.4,135.1 87.6,134.5 98.9,133.9 110.1,133.3 121.4,132.9 132.6,132.7 143.9,132.5 155.1,132.4 166.4,132.3 177.6,132.2 188.9,132.2 200.1,132.3 211.4,131.9 222.6,132.2 233.8,132.1 245.1,131.2 256.3,132.4 267.6,131.7 278.8,131.9 290.1,132.8 301.3,132.6 312.6,132.0 323.8,133.3 335.1,132.9 346.3,132.5 357.6,133.3 368.8,133.2 380.0,133.9 391.3,134.1 402.5,134.2 413.8,134.2 425.0,133.7 436.3,134.2 447.5,133.1 458.8,134.2 470.0,134.6 481.3,133.4 492.5,135.3 503.8,136.1 515.0,135.8 526.2,137.0 537.5,136.1 548.7,135.8 560.0,136.6 571.2,137.7 582.5,137.7 593.7,137.3 605.0,136.9 616.2,138.3 627.5,138.4 638.7,137.2 650.0,138.0 661.2,138.0 672.4,137.9 683.7,139.1 694.9,138.6 706.2,137.5 717.4,138.6 728.7,138.5 739.9,137.8 751.2,137.5 762.4,135.0 773.7,138.0 784.9,136.7 796.2,134.4 807.4,136.1"/>
<polyline points="65.2,134.2 76.4,132.7 87.6,129.0 98.9,125.4 110.1,123.0 121.4,122.0 132.6,121.7 143.9,121.7 155.1,121.8 166.4,121.8 177.6,121.9 188.9,121.9 200.1,121.4 211.4,121.6 222.6,121.3 233.8,121.7 245.1,121.4 256.3,121.1 267.6,121.4 278.8,121.6 290.1,121.6 301.3,121.6 312.6,121.3 323.8,121.2 335.1,122.5 346.3,122.9 357.6,121.7 368.8,121.4 380.0,120.7 391.3,120.2 402.5,120.9 413.8,118.9 425.0,119.7 436.3,120.7 447.5,118.8 458.8,119.1 470.0,119.0 481.3,120.2 492.5,119.4 503.8,119.0 515.0,119.1 526.2,118.3 537.5,117.7 548.7,117.1 560.0,116.9 571.2,117.5 582.5,115.6 593.7,116.3 605.0,115.4 616.2,115.9 627.5,116.7 638.7,117.3 650.0,115.2 661.2,116.0 672.4,115.5 683.7,114.8 694.9,117.2 706.2,117.4 717.4,115.5 728.7,115.2 739.9,115.5 751.2,115.4 762.4,116.1 773.7,114.2 784.9,114.5 796.2,113.0 807.4,112.3"/>
<polyline points="65.2,133.2 76.4,132.7 87.6,131.3 98.9,129.6 110.1,128.1 121.4,127.0 132.6,126.4 143.9,126.1 155.1,126.0 166.4,125.9 177.6,125.9 188.9,125.7 200.1,125.8 211.4,125.9 222.6,126.0 233.8,125.9 245.1,126.0 256.3,126.3 267.6,126.6 278.8,125.6 290.1,126.3 301.3,125.9 312.6,125.3 323.8,125.5 335.1,124.8 346.3,125.8 357.6,124.7 368.8,125.7 380.0,125.7 391.3,125.4 402.5,124.7 413.8,125.1 425.0,125.4 436.3,123.7 447.5,124.8 458.8,124.0 470.0,123.4 481.3,123.5 492.5,122.5 503.8,122.0 515.0,122.1 526.2,121.0 537.5,122.0 548.7,122.3 560.0,121.4 571.2,122.4 582.5,121.5 593.7,122.1 605.0,122.5 616.2,121.7 627.5,121.7 638.7,124.6 650.0,122.1 661.2,121.3 672.4,120.5 683.7,120.9 694.9,120.9 706.2,119.1 717.4,118.1 728.7,120.3 739.9,119.5 751.2,118.4 762.4,120.2 773.7,118.2 784.9,116.8 796.2,118.7 807.4,117.5"/>
<polyline points="65.2,132.1 76.4,131.8 87.6,130.8 98.9,129.6 110.1,128.5 121.4,127.8 132.6,127.3 143.9,127.1 155.1,127.0 166.4,127.0 177.6,127.0 188.9,127.3 200.1,127.4 211.4,127.4 222.6,127.4 233.8,127.0 245.1,127.2 256.3,127.1 267.6,127.1 278.8,126.6 290.1,126.2 301.3,125.7 312.6,126.1 323.8,125.2 335.1,124.8 346.3,124.9 357.6,125.9 368.8,124.9 380.0,125.1 391.3,125.6 402.5,126.7 413.8,127.0 425.0,126.1 436.3,126.7 447.5,126.7 458.8,124.9 470.0,124.5 481.3,124.2 492.5,123.3 503.8,123.3 515.0,124.6 526.2,122.9 537.5,123.7 548.7,123.7 560.0,123.1 571.2,124.2 582.5,123.6 593.7,124.9 605.0,125.2 616.2,125.3 627.5,124.4 638.7,125.1 650.0,123.0 661.2,122.2 672.4,121.9 683.7,122.8 694.9,122.3 706.2,119.5 717.4,121.1 728.7,119.3 739.9,122.0 751.2,121.7 762.4,124.4 773.7,124.5 784.9,124.9 796.2,124.7 807.4,123.9"/>
<polyline points="65.2,131.0 76.4,130.6 87.6,129.6 98.9,128.6 110.1,127.9 121.4,127.5 132.6,127.3 143.9,127.1 155.1,127.0 166.4,126.8 177.6,126.7 188.9,126.7 200.1,126.5 211.4,127.1 222.6,126.9 233.8,127.3 245.1,127.9 256.3,127.5 267.6,128.3 278.8,127.6 290.1,128.4 301.3,128.1 312.6,128.3 323.8,127.7 335.1,127.2 346.3,127.6 357.6,127.0 368.8,125.7 380.0,126.8 391.3,125.3 402.5,126.5 413.8,126.7 425.0,127.6 436.3,127.3 447.5,128.1 458.8,127.6 470.0,127.0 481.3,127.7 492.5,128.2 503.8,128.6 515.0,128.3 526.2,128.8 537.5,128.6 548.7,126.1 560.0,127.3 571.2,128.2 582.5,127.0 593.7,126.4 605.0,128.2 616.2,128.0 627.5,129.1 638.7,129.5 650.0,127.0 661.2,125.2 672.4,128.9 683.7,129.7 694.9,126.8 706.2,127.1 717.4,127.7 728.7,126.9 739.9,128.9 751.2,128.7 762.4,128.7 773.7,130.4 784.9,130.2 796.2,131.5 807.4,131.3"/>
<polyline points="65.2,129.9 76.4,129.2 87.6,126.9 98.9,124.5 110.1,123.1 121.4,122.5 132.6,122.4 143.9,122.4 155.1,122.4 166.4,122.4 177.6,122.5 188.9,122.6 200.1,123.0 211.4,123.2 222.6,123.3 233.8,123.6 245.1,123.9 256.3,124.2 267.6,124.5 278.8,124.8 290.1,124.9 301.3,124.5 312.6,124.8 323.8,125.4 335.1,124.6 346.3,123.7 357.6,123.8 368.8,125.6 380.0,124.9 391.3,124.0 402.5,124.4 413.8,124.4 425.0,124.5 436.3,124.3 447.5,124.9 458.8,123.4 470.0,124.7 481.3,123.8 492.5,122.2 503.8,122.1 515.0,122.3 526.2,121.8 537.5,121.6 548.7,120.9 560.0,120.2 571.2,118.4 582.5,119.4 593.7,118.3 605.0,118.2 616.2,118.2 627.5,118.8 638.7,118.1 650.0,118.9 661.2,119.3 672.4,120.1 683.7,122.0 694.9,119.6 706.2,119.8 717.4,121.2 728.7,120.9 739.9,120.4 751.2,121.5 762.4,119.6 773.7,119.3 784.9,118.9 796.2,118.4 807.4,121.1"/>
<polyline points="65.2,128.9 76.4,129.2 87.6,130.2 98.9,131.4 110.1,132.5 121.4,133.2 132.6,133.6 143.9,133.7 155.1,133.8 166.4,133.8 177.6,133.8 188.9,133.7 200.1,133.8 211.4,134.0 222.6,134.3 233.8,133.5 245.1,134.5 256.3,134.6 267.6,134.7 278.8,134.1 290.1,134.9 301.3,134.2 312.6,134.3 323.8,134.9 335.1,134.1 346.3,134.7 357.6,134.0 368.8,133.4 380.0,133.9 391.3,134.3 402.5,134.1 413.8,134.0 425.0,133.8 436.3,135.5 447.5,135.2 458.8,133.6 470.0,133.8 481.3,133.4 492.5,132.9 503.8,132.7 515.0,132.4 526.2,131.5 537.5,130.6 548.7,130.5 560.0,130.6 571.2,131.4 582.5,130.5 593.7,131.8 605.0,131.7 616.2,131.3 627.5,131.6 638.7,130.9 650.0,131.0 661.2,131.1 672.4,131.4 683.7,130.5 694.9,130.0 706.2,127.4 717.4,127.8 728.7,128.2 739.9,127.9 751.2,125.6 762.4,127.7 773.7,126.7 784.9,127.3 796.2,127.0 807.4,129.7"/>
<polyline points="65.2,127.8 76.4,127.6 87.6,127.0 98.9,126.2 110.1,125.6 121.4,125.2 132.6,125.0 143.9,124.9 155.1,125.0 166.4,125.0 177.6,125.1 188.9,125.1 200.1,125.1 211.4,124.6 222.6,124.5 233.8,124.4 245.1,124.4 256.3,124.3 267.6,124.4 278.8,123.9 290.1,124.8 301.3,124.3 312.6,124.9 323.8,125.9 335.1,126.4 346.3,126.4 357.6,126.2 368.8,126.9 380.0,125.7 391.3,125.1 402.5,125.0 413.8,125.7 425.0,125.5 436.3,122.7 447.5,121.6 458.8,122.1 470.0,120.9 481.3,120.9 492.5,120.9 503.8,119.5 515.0,120.6 526.2,119.6 537.5,119.0 548.7,120.5 560.0,119.0 571.2,121.5 582.5,119.6 593.7,120.1 605.0,117.7 616.2,119.4 627.5,119.7 638.7,117.2 650.0,119.6 661.2,117.5 672.4,118.4 683.7,116.3 694.9,117.7 706.2,116.8 717.4,117.7 728.7,118.7 739.9,119.7 751.2,115.8 762.4,117.1 773.7,118.2 784.9,116.9 796.2,115.1 807.4,117.3"/>
<polyline points="65.2,126.7 76.4,126.5 87.6,126.0 98.9,125.3 110.1,124.7 121.4,124.3 132.6,124.2 143.9,124.2 155.1,124.2 166.4,124.3 177.6,124.3 188.9,124.3 200.1,124.1 211.4,124.6 222.6,124.2 233.8,124.3 245.1,124.7 256.3,124.4 267.6,124.8 278.8,124.4 290.1,124.8 301.3,124.5 312.6,125.1 323.8,123.9 335.1,124.2 346.3,123.2 357.6,123.9 368.8,123.7 380.0,122.9 391.3,122.8 402.5,122.7 413.8,121.6 425.0,121.3 436.3,121.3 447.5,120.8 458.8,121.0 470.0,120.1 481.3,120.9 492.5,118.7 503.8,119.7 515.0,118.8 526.2,120.2 537.5,118.7 548.7,118.8 560.0,117.5 571.2,117.2 582.5,118.8 593.7,116.2 605.0,118.0 616.2,115.3 627.5,116.2 638.7,116.9 650.0,115.0 661.2,115.4 672.4,116.2 683.7,115.7 694.9,114.4 706.2,115.8 717.4,115.0 728.7,112.0 739.9,114.1 751.2,112.5 762.4,111.9 773.7,110.8 784.9,110.2 796.2,113.2 807.4,110.5"/>
<polyline points="65.2,125.6 76.4,126.4 87.6,128.6 98.9,131.4 110.1,133.7 121.4,135.1 132.6,135.7 143.9,135.8 155.1,135.8 166.4,135.7 177.6,135.7 188.9,135.5 200.1,135.4 211.4,135.1 222.6,135.9 233.8,135.9 245.1,135.8 256.3,135.9 267.6,135.9 278.8,136.3 290.1,136.7 301.3,136.2 312.6,135.7 323.8,135.6 335.1,136.2 346.3,135.5 357.6,135.4 368.8,135.7 380.0,135.4 391.3,134.9 402.5,133.1 413.8,134.5 425.0,135.0 436.3,134.5 447.5,134.8 458.8,133.7 470.0,136.0 481.3,135.4 492.5,134.2 503.8,134.6 515.0,135.0 526.2,134.6 537.5,136.2 548.7,135.0 560.0,136.2 571.2,136.2 582.5,134.7 593.7,135.6 605.0,135.1 616.2,134.0 627.5,135.2 638.7,133.5 650.0,131.8 661.2,133.8 672.4,132.5 683.7,132.5 694.9,134.2 706.2,134.2 717.4,132.8 728.7,134.8 739.9,132.6 751.2,132.3 762.4,132.0 773.7,132.0 784.9,131.0 796.2,132.6 807.4,130.8"/>
<polyline points="65.2,124.5 76.4,124.6 87.6,124.7 98.9,124.9 110.1,125.1 121.4,125.3 132.6,125.3 143.9,125.3 155.1,125.3 166.4,125.2 177.6,125.3 188.9,125.1 200.1,125.0 211.4,125.1 222.6,125.3 233.8,125.1 245.1,125.0 256.3,124.5 267.6,124.7 278.8,124.9 290.1,125.2 301.3,125.8 312.6,125.3 323.8,125.6 335.1,124.9 346.3,124.1 357.6,124.0 368.8,123.9 380.0,124.4 391.3,123.7 402.5,124.5 413.8,125.6 425.0,124.3 436.3,124.5 447.5,125.7 458.8,125.0 470.0,126.4 481.3,125.1 492.5,124.0 503.8,125.3 515.0,123.8 526.2,124.5 537.5,125.2 548.7,125.9 560.0,123.8 571.2,123.8 582.5,125.5 593.7,124.6 605.0,123.4 616.2,125.1 627.5,124.2 638.7,126.5 650.0,125.9 661.2,124.7 672.4,126.8 683.7,127.4 694.9,127.8 706.2,127.3 717.4,128.9 728.7,127.9 739.9,127.7 751.2,127.1 762.4,129.3 773.7,127.5 784.9,128.8 796.2,129.6 807.4,128.8"/>
<polyline points="65.2,123.4 76.4,123.6 87.6,124.2 98.9,125.0 110.1,125.9 121.4,126.7 132.6,127.3 143.9,127.7 155.1,128.0 166.4,128.1 177.6,128.1 188.9,128.2 200.1,128.0 211.4,128.0 222.6,127.6 233.8,127.6 245.1,127.1 256.3,126.7 267.6,127.6 278.8,127.5 290.1,127.1 301.3,126.7 312.6,127.3 323.8,127.7 335.1,128.1 346.3,128.5 357.6,128.2 368.8,128.1 380.0,128.2 391.3,128.5 402.5,128.9 413.8,128.2 425.0,127.6 436.3,127.8 447.5,126.6 458.8,127.5 470.0,126.7 481.3,126.2 492.5,125.9 503.8,126.4 515.0,125.9 526.2,127.4 537.5,127.7 548.7,126.5 560.0,128.1 571.2,127.6 582.5,128.9 593.7,126.6 605.0,126.8 616.2,127.9 627.5,128.6 638.7,126.8 650.0,126.6 661.2,125.7 672.4,124.9 683.7,126.3 694.9,126.6 706.2,126.5 717.4,126.4 728.7,127.2 739.9,126.6 751.2,125.5 762.4,126.9 773.7,126.4 784.9,123.7 796.2,125.6 807.4,124.1"/>
<polyline points="65.2,122.3 76.4,122.2 87.6,122.0 98.9,121.6 110.1,121.3 121.4,121.1 132.6,121.0 143.9,120.9 155.1,120.9 166.4,120.9 177.6,120.9 188.9,120.9 200.1,120.7 211.4,120.7 222.6,120.8 233.8,121.0 245.1,119.7 256.3,120.9 267.6,120.2 278.8,121.4 290.1,121.2 301.3,120.3 312.6,121.5 323.8,121.5 335.1,121.0 346.3,121.4 357.6,121.1 368.8,120.8 380.0,120.3 391.3,120.6 402.5,120.4 413.8,119.6 425.0,119.3 436.3,120.3 447.5,121.1 458.8,120.4 470.0,118.9 481.3,119.8 492.5,119.8 503.8,119.5 515.0,117.9 526.2,118.9 537.5,119.1 548.7,119.2 560.0,119.3 571.2,116.1 582.5,118.2 593.7,117.9 605.0,118.1 616.2,116.7 627.5,118.2 638.7,118.8 650.0,117.4 661.2,116.3 672.4,114.2 683.7,116.0 694.9,116.4 706.2,115.5 717.4,115.8 728.7,115.5 739.9,114.4 751.2,113.9 762.4,114.7 773.7,112.8 784.9,113.8 796.2,113.5 807.4,114.1"/>
<polyline points="65.2,121.2 76.4,121.5 87.6,122.5 98.9,124.0 110.1,125.6 121.4,126.8 132.6,127.5 143.9,127.8 155.1,127.9 166.4,127.9 177.6,127.9 188.9,128.0 200.1,127.8 211.4,127.9 222.6,128.1 233.8,128.3 245.1,128.0 256.3,128.6 267.6,127.8 278.8,128.0 290.1,128.8 301.3,127.8 312.6,127.4 323.8,127.8 335.1,128.6 346.3,128.3 357.6,127.5 368.8,128.7 380.0,128.3 391.3,127.4 402.5,128.3 413.8,128.6 425.0,127.8 436.3,127.3 447.5,128.1 458.8,129.3 470.0,129.6 481.3,128.8 492.5,129.9 503.8,128.8 515.0,128.2 526.2,131.0 537.5,129.3 548.7,129.1 560.0,129.9 571.2,129.4 582.5,129.4 593.7,129.1 605.0,127.9 616.2,129.9 627.5,131.0 638.7,131.0 650.0,131.1 661.2,129.2 672.4,129.3 683.7,128.9 694.9,128.8 706.2,127.1 717.4,127.2 728.7,126.9 739.9,128.2 751.2,127.5 762.4,128.2 773.7,127.3 784.9,126.3 796.2,127.5 807.4,126.8"/>
<polyline points="65.2,120.1 76.4,120.5 87.6,121.6 98.9,123.0 110.1,124.1 121.4,125.0 132.6,125.4 143.9,125.5 155.1,125.5 166.4,125.4 177.6,125.2 188.9,125.3 200.1,125.5 211.4,125.1 222.6,125.4 233.8,125.8 245.1,126.1 256.3,126.2 267.6,126.4 278.8,126.3 290.1,126.9 301.3,126.3 312.6,126.6 323.8,125.3 335.1,125.5 346.3,124.8 357.6,124.2 368.8,125.0 380.0,123.9 391.3,124.6 402.5,124.3 413.8,125.2 425.0,124.5 436.3,123.6 447.5,124.2 458.8,124.9 470.0,124.7 481.3,125.3 492.5,125.3 503.8,125.9 515.0,124.2 526.2,124.2 537.5,125.2 548.7,126.1 560.0,125.3 571.2,123.5 582.5,126.1 593.7,125.4 605.0,125.3 616.2,124.2 627.5,125.9 638.7,124.5 650.0,125.4 661.2,125.0 672.4,125.8 683.7,124.3 694.9,125.3 706.2,125.6 717.4,124.2 728.7,125.1 739.9,123.4 751.2,125.5 762.4,126.0 773.7,126.2 784.9,123.5 796.2,125.1 807.4,126.6"/>
<polyline points="65.2,118.9 76.4,119.2 87.6,119.8 98.9,120.5 110.1,121.2 121.4,121.7 132.6,121.9 143.9,122.0 155.1,122.0 166.4,122.0 177.6,121.9 188.9,122.0 200.1,121.8 211.4,121.8 222.6,121.5 233.8,121.7 245.1,121.9 256.3,121.8 267.6,121.9 278.8,121.5 290.1,122.5 301.3,123.3 312.6,121.0 323.8,122.1 335.1,122.6 346.3,121.4 357.6,123.4 368.8,123.3 380.0,123.1 391.3,122.6 402.5,123.1 413.8,122.2 425.0,122.8 436.3,121.5 447.5,121.9 458.8,123.1 470.0,121.8 481.3,122.3 492.5,121.4 503.8,121.1 515.0,119.3 526.2,121.0 537.5,121.9 548.7,120.5 560.0,121.4 571.2,118.9 582.5,119.7 593.7,118.9 605.0,120.4 616.2,120.9 627.5,119.6 638.7,120.8 650.0,120.3 661.2,119.8 672.4,119.0 683.7,119.9 694.9,120.1 706.2,116.4 717.4,117.9 728.7,117.2 739.9,116.0 751.2,115.8 762.4,116.5 773.7,115.9 784.9,113.4 796.2,113.4 807.4,113.7"/>
<polyline points="65.2,117.8 76.4,118.9 87.6,121.8 98.9,125.0 110.1,127.4 121.4,128.7 132.6,129.3 143.9,129.4 155.1,129.5 166.4,129.5 177.6,129.6 188.9,129.6 200.1,129.2 211.4,129.3 222.6,129.3 233.8,129.3 245.1,129.3 256.3,129.7 267.6,129.5 278.8,129.9 290.1,128.9 301.3,129.2 312.6,129.4 323.8,129.4 335.1,129.8 346.3,130.4 357.6,128.9 368.8,129.6 380.0,130.1 391.3,129.7 402.5,129.3 413.8,129.3 425.0,129.6 436.3,129.5 447.5,130.1 458.8,129.0 470.0,129.2 481.3,129.1 492.5,130.6 503.8,129.2 515.0,129.1 526.2,128.9 537.5,131.5 548.7,130.9 560.0,129.2 571.2,130.2 582.5,129.1 593.7,129.5 605.0,128.7 616.2,129.9 627.5,130.4 638.7,129.2 650.0,130.0 661.2,130.9 672.4,131.8 683.7,127.2 694.9,130.6 706.2,130.6 717.4,132.4 728.7,131.6 739.9,130.8 751.2,130.4 762.4,130.0 773.7,131.6 784.9,130.3 796.2,129.6 807.4,131.5"/>
<polyline points="65.2,116.6 76.4,116.9 87.6,117.7 98.9,118.8 110.1,119.5 121.4,119.8 132.6,119.8 143.9,119.7 155.1,119.6 166.4,119.5 177.6,119.4 188.9,119.5 200.1,119.4 211.4,120.0 222.6,119.7 233.8,119.4 245.1,120.0 256.3,119.8 267.6,120.1 278.8,118.8 290.1,118.6 301.3,119.9 312.6,119.6 323.8,119.0 335.1,118.6 346.3,118.6 357.6,118.5 368.8,118.3 380.0,118.3 391.3,118.1 402.5,119.3 413.8,120.0 425.0,120.0 436.3,118.7 447.5,119.8 458.8,120.0 470.0,119.6 481.3,119.7 492.5,118.9 503.8,121.2 515.0,120.5 526.2,120.1 537.5,120.1 548.7,121.2 560.0,122.4 571.2,121.6 582.5,122.2 593.7,122.0 605.0,121.3 616.2,121.8 627.5,123.6 638.7,123.4 650.0,122.6 661.2,121.6 672.4,122.6 683.7,122.2 694.9,123.8 706.2,122.7 717.4,122.9 728.7,121.9 739.9,122.3 751.2,123.0 762.4,123.3 773.7,122.0 784.9,122.9 796.2,120.9 807.4,121.9"/>
<polyline points="65.2,115.5 76.4,115.7 87.6,116.5 98.9,118.0 110.1,119.7 121.4,121.2 132.6,122.4 143.9,123.1 155.1,123.5 166.4,123.7 177.6,124.0 188.9,123.9 200.1,124.0 211.4,124.0 222.6,124.1 233.8,124.2 245.1,123.6 256.3,123.3 267.6,123.5 278.8,123.6 290.1,123.7 301.3,123.2 312.6,122.9 323.8,123.8 335.1,124.3 346.3,122.6 357.6,124.9 368.8,123.9 380.0,124.1 391.3,123.2 402.5,123.9 413.8,124.7 425.0,124.2 436.3,123.3 447.5,123.3 458.8,123.6 470.0,123.6 481.3,124.4 492.5,124.5 503.8,124.0 515.0,124.2 526.2,124.0 537.5,124.9 548.7,122.7 560.0,125.3 571.2,123.0 582.5,122.9 593.7,121.7 605.0,121.4 616.2,123.3 627.5,121.5 638.7,120.8 650.0,120.5 661.2,120.9 672.4,122.0 683.7,120.4 694.9,122.1 706.2,122.7 717.4,122.4 728.7,123.2 739.9,123.6 751.2,122.7 762.4,119.9 773.7,121.9 784.9,121.7 796.2,121.6 807.4,120.1"/>
<polyline points="65.2,114.3 76.4,114.6 87.6,115.4 98.9,116.4 110.1,117.5 121.4,118.3 132.6,118.9 143.9,119.3 155.1,119.5 166.4,119.6 177.6,119.6 188.9,119.7 200.1,119.5 211.4,119.5 222.6,119.2 233.8,118.9 245.1,119.2 256.3,119.2 267.6,119.3 278.8,119.5 290.1,119.9 301.3,120.9 312.6,119.3 323.8,119.5 335.1,119.8 346.3,119.8 357.6,119.3 368.8,119.3 380.0,119.7 391.3,119.9 402.5,119.3 413.8,119.1 425.0,118.1 436.3,120.0 447.5,119.0 458.8,119.8 470.0,119.4 481.3,117.4 492.5,119.2 503.8,118.9 515.0,119.2 526.2,118.1 537.5,119.0 548.7,120.0 560.0,118.5 571.2,118.0 582.5,118.7 593.7,118.5 605.0,119.3 616.2,119.5 627.5,118.7 638.7,119.7 650.0,119.1 661.2,119.6 672.4,118.9 683.7,117.9 694.9,118.6 706.2,117.3 717.4,117.9 728.7,118.2 739.9,118.7 751.2,117.5 762.4,118.5 773.7,116.2 784.9,118.2 796.2,118.0 807.4,117.2"/>
<polyline points="65.2,113.1 76.4,113.7 87.6,115.6 98.9,118.3 110.1,121.2 121.4,123.6 132.6,125.2 143.9,126.1 155.1,126.6 166.4,126.8 177.6,127.1 188.9,127.1 200.1,127.4 211.4,127.7 222.6,127.6 233.8,128.2 245.1,127.6 256.3,128.7 267.6,128.7 278.8,129.0 290.1,128.1 301.3,128.3 312.6,127.8 323.8,127.5 335.1,127.5 346.3,127.2 357.6,127.1 368.8,127.7 380.0,128.0 391.3,128.1 402.5,127.0 413.8,127.7 425.0,127.9 436.3,127.7 447.5,127.0 458.8,126.4 470.0,126.4 481.3,126.5 492.5,125.0 503.8,126.6 515.0,124.8 526.2,123.4 537.5,123.8 548.7,122.9 560.0,123.8 571.2,123.5 582.5,124.1 593.7,124.7 605.0,124.3 616.2,124.1 627.5,126.9 638.7,126.2 650.0,127.5 661.2,126.7 672.4,127.1 683.7,126.5 694.9,126.4 706.2,125.3 717.4,125.1 728.7,127.3 739.9,127.1 751.2,126.2 762.4,127.7 773.7,127.6 784.9,129.3 796.2,126.5 807.4,126.9"/>
<polyline points="65.2,111.8 76.4,112.1 87.6,112.8 98.9,113.9 110.1,114.8 121.4,115.3 132.6,115.5 143.9,115.5 155.1,115.5 166.4,115.5 177.6,115.5 188.9,115.5 200.1,115.4 211.4,115.7 222.6,115.5 233.8,116.2 245.1,115.9 256.3,115.6 267.6,115.2 278.8,115.4 290.1,116.6 301.3,116.5 312.6,116.0 323.8,115.0 335.1,114.9 346.3,114.5 357.6,114.6 368.8,115.1 380.0,114.9 391.3,115.1 402.5,114.0 413.8,115.2 425.0,114.4 436.3,114.3 447.5,113.7 458.8,115.1 470.0,114.4 481.3,115.4 492.5,114.0 503.8,115.0 515.0,114.9 526.2,115.3 537.5,114.9 548.7,114.8 560.0,114.6 571.2,113.0 582.5,114.5 593.7,113.2 605.0,112.5 616.2,113.9 627.5,114.6 638.7,112.1 650.0,113.7 661.2,112.7 672.4,111.9 683.7,111.3 694.9,111.5 706.2,111.6 717.4,109.6 728.7,109.9 739.9,107.7 751.2,109.9 762.4,108.4 773.7,107.7 784.9,106.4 796.2,106.0 807.4,105.6"/>
<polyline points="65.2,110.6 76.4,111.1 87.6,112.4 98.9,114.1 110.1,115.7 121.4,116.9 132.6,117.8 143.9,118.3 155.1,118.6 166.4,118.7 177.6,118.8 188.9,118.9 200.1,119.0 211.4,119.1 222.6,118.9 233.8,119.0 245.1,119.0 256.3,119.6 267.6,119.1 278.8,118.9 290.1,119.4 301.3,120.8 312.6,119.6 323.8,119.8 335.1,119.1 346.3,119.6 357.6,119.1 368.8,119.4 380.0,118.8 391.3,118.1 402.5,118.5 413.8,117.8 425.0,117.6 436.3,117.0 447.5,117.1 458.8,116.4 470.0,117.7 481.3,116.4 492.5,115.4 503.8,115.3 515.0,116.3 526.2,116.0 537.5,114.9 548.7,114.8 560.0,114.6 571.2,114.8 582.5,114.7 593.7,113.9 605.0,115.5 616.2,115.9 627.5,113.8 638.7,115.4 650.0,114.1 661.2,115.2 672.4,115.4 683.7,112.7 694.9,113.9 706.2,114.6 717.4,112.9 728.7,112.1 739.9,111.4 751.2,110.2 762.4,110.6 773.7,108.9 784.9,107.4 796.2,106.5 807.4,106.5"/>
<polyline points="65.2,109.3 76.4,110.3 87.6,113.0 98.9,116.5 110.1,119.3 121.4,120.8 132.6,121.3 143.9,121.4 155.1,121.3 166.4,121.1 177.6,120.8 188.9,120.7 200.1,120.9 211.4,120.7 222.6,120.4 233.8,120.7 245.1,120.8 256.3,121.3 267.6,120.9 278.8,123.1 290.1,122.6 301.3,121.2 312.6,121.6 323.8,121.9 335.1,122.0 346.3,122.5 357.6,121.5 368.8,121.1 380.0,121.3 391.3,119.8 402.5,120.0 413.8,120.9 425.0,120.4 436.3,121.2 447.5,121.3 458.8,122.1 470.0,120.2 481.3,123.0 492.5,122.0 503.8,120.9 515.0,120.5 526.2,122.0 537.5,120.9 548.7,119.8 560.0,119.8 571.2,119.4 582.5,118.8 593.7,118.7 605.0,117.7 616.2,120.3 627.5,118.2 638.7,119.5 650.0,118.9 661.2,119.7 672.4,117.1 683.7,120.4 694.9,117.1 706.2,117.8 717.4,116.7 728.7,114.2 739.9,114.9 751.2,113.0 762.4,111.9 773.7,113.6 784.9,110.7 796.2,111.5 807.4,113.3"/>
<polyline points="65.2,108.0 76.4,108.6 87.6,110.2 98.9,112.4 110.1,114.5 121.4,116.1 132.6,117.1 143.9,117.7 155.1,117.9 166.4,118.0 177.6,117.9 188.9,117.8 200.1,117.8 211.4,117.8 222.6,117.7 233.8,117.6 245.1,117.2 256.3,118.0 267.6,117.7 278.8,118.0 290.1,118.3 301.3,117.5 312.6,117.1 323.8,118.1 335.1,117.0 346.3,117.0 357.6,116.9 368.8,116.1 380.0,116.9 391.3,115.3 402.5,116.1 413.8,115.3 425.0,116.3 436.3,114.5 447.5,114.9 458.8,115.1 470.0,115.3 481.3,114.4 492.5,113.6 503.8,114.1 515.0,114.7 526.2,114.9 537.5,115.0 548.7,114.4 560.0,115.2 571.2,114.1 582.5,112.7 593.7,113.4 605.0,113.3 616.2,113.4 627.5,112.1 638.7,111.9 650.0,111.0 661.2,112.6 672.4,112.7 683.7,111.9 694.9,112.2 706.2,110.8 717.4,110.7 728.7,110.8 739.9,109.6 751.2,108.1 762.4,108.1 773.7,109.1 784.9,108.2 796.2,107.8 807.4,107.3"/>
<polyline points="65.2,106.7 76.4,107.2 87.6,108.4 98.9,110.1 110.1,111.6 121.4,112.6 132.6,113.2 143.9,113.4 155.1,113.5 166.4,113.5 177.6,113.5 188.9,113.5 200.1,113.5 211.4,113.7 222.6,113.2 233.8,113.3 245.1,113.8 256.3,112.9 267.6,112.6 278.8,113.0 290.1,112.9 301.3,113.7 312.6,113.4 323.8,113.8 335.1,113.0 346.3,112.0 357.6,112.5 368.8,113.0 380.0,111.0 391.3,110.5 402.5,110.6 413.8,112.2 425.0,110.6 436.3,111.5 447.5,110.9 458.8,110.1 470.0,109.3 481.3,110.5 492.5,110.1 503.8,110.5 515.0,109.3 526.2,109.8 537.5,109.2 548.7,108.1 560.0,108.6 571.2,108.4 582.5,108.2 593.7,107.7 605.0,107.1 616.2,109.1 627.5,109.3 638.7,107.2 650.0,106.7 661.2,105.6 672.4,105.6 683.7,104.2 694.9,104.7 706.2,105.2 717.4,103.1 728.7,104.5 739.9,103.9 751.2,102.6 762.4,103.1 773.7,101.8 784.9,103.1 796.2,100.8 807.4,103.8"/>
<polyline points="65.2,105.4 76.4,105.6 87.6,106.4 98.9,107.6 110.1,108.9 121.4,109.9 132.6,110.8 143.9,111.4 155.1,111.9 166.4,112.3 177.6,112.7 188.9,112.8 200.1,112.7 211.4,112.6 222.6,112.6 233.8,112.6 245.1,112.1 256.3,112.1 267.6,111.3 278.8,110.7 290.1,111.2 301.3,111.7 312.6,109.8 323.8,110.6 335.1,110.4 346.3,110.3 357.6,109.9 368.8,109.4 380.0,108.7 391.3,109.1 402.5,108.0 413.8,107.0 425.0,106.3 436.3,105.9 447.5,105.5 458.8,107.0 470.0,106.7 481.3,106.9 492.5,106.9 503.8,107.7 515.0,106.8 526.2,109.0 537.5,109.3 548.7,110.5 560.0,107.9 571.2,109.0 582.5,108.6 593.7,108.4 605.0,107.0 616.2,106.5 627.5,104.3 638.7,105.2 650.0,104.1 661.2,103.6 672.4,102.0 683.7,101.8 694.9,100.7 706.2,100.5 717.4,99.8 728.7,99.5 739.9,97.7 751.2,96.9 762.4,95.7 773.7,96.3 784.9,93.8 796.2,92.8 807.4,92.8"/>
<polyline points="65.2,104.0 76.4,104.8 87.6,107.2 98.9,110.9 110.1,115.1 121.4,119.2 132.6,122.7 143.9,125.4 155.1,127.3 166.4,128.5 177.6,129.2 188.9,129.5 200.1,129.8 211.4,130.1 222.6,130.0 233.8,130.2 245.1,130.4 256.3,129.6 267.6,129.4 278.8,130.5 290.1,129.0 301.3,128.8 312.6,130.3 323.8,129.2 335.1,129.4 346.3,128.7 357.6,130.7 368.8,128.6 380.0,129.2 391.3,128.7 402.5,128.5 413.8,130.6 425.0,129.4 436.3,129.5 447.5,129.3 458.8,129.1 470.0,129.4 481.3,130.5 492.5,129.5 503.8,130.4 515.0,129.1 526.2,129.5 537.5,129.2 548.7,128.6 560.0,129.6 571.2,128.3 582.5,128.7 593.7,126.9 605.0,126.6 616.2,128.9 627.5,129.9 638.7,128.1 650.0,129.3 661.2,130.2 672.4,128.0 683.7,131.1 694.9,132.4 706.2,132.4 717.4,132.6 728.7,132.0 739.9,133.9 751.2,136.0 762.4,135.8 773.7,134.0 784.9,138.1 796.2,136.8 807.4,135.7"/>
<polyline points="65.2,102.6 76.4,103.1 87.6,104.6 98.9,107.0 110.1,109.7 121.4,112.0 132.6,113.6 143.9,114.5 155.1,114.9 166.4,114.9 177.6,114.9 188.9,114.9 200.1,115.1 211.4,115.3 222.6,114.9 233.8,114.6 245.1,114.5 256.3,114.8 267.6,115.1 278.8,115.2 290.1,115.0 301.3,114.9 312.6,114.6 323.8,114.8 335.1,113.8 346.3,114.7 357.6,114.4 368.8,114.0 380.0,113.9 391.3,114.8 402.5,115.2 413.8,115.0 425.0,113.9 436.3,113.6 447.5,113.7 458.8,113.3 470.0,112.9 481.3,114.1 492.5,111.7 503.8,111.4 515.0,112.5 526.2,113.0 537.5,112.4 548.7,113.4 560.0,112.0 571.2,112.4 582.5,111.6 593.7,111.6 605.0,109.4 616.2,111.7 627.5,110.5 638.7,111.0 650.0,109.1 661.2,109.4 672.4,111.5 683.7,110.8 694.9,109.4 706.2,110.0 717.4,108.7 728.7,108.7 739.9,109.5 751.2,108.4 762.4,107.2 773.7,107.5 784.9,106.9 796.2,106.4 807.4,106.7"/>
<polyline points="65.2,101.2 76.4,102.3 87.6,105.0 98.9,108.2 110.1,111.2 121.4,113.4 132.6,114.8 143.9,115.6 155.1,115.9 166.4,116.0 177.6,115.9 188.9,115.8 200.1,115.7 211.4,115.9 222.6,116.0 233.8,116.0 245.1,116.0 256.3,115.3 267.6,115.5 278.8,114.6 290.1,114.8 301.3,115.1 312.6,116.0 323.8,115.4 335.1,115.6 346.3,116.7 357.6,116.8 368.8,116.6 380.0,115.6 391.3,116.6 402.5,117.1 413.8,116.2 425.0,115.7 436.3,116.6 447.5,114.3 458.8,115.7 470.0,114.1 481.3,114.0 492.5,114.6 503.8,113.8 515.0,113.5 526.2,113.6 537.5,112.6 548.7,113.1 560.0,114.5 571.2,113.2 582.5,114.2 593.7,113.5 605.0,113.1 616.2,113.3 627.5,112.2 638.7,112.9 650.0,112.9 661.2,110.5 672.4,110.9 683.7,111.2 694.9,110.6 706.2,110.6 717.4,109.9 728.7,110.7 739.9,107.9 751.2,108.4 762.4,112.0 773.7,110.8 784.9,110.0 796.2,110.8 807.4,112.4"/>
<polyline points="65.2,99.7 76.4,100.9 87.6,104.1 98.9,108.4 110.1,112.4 121.4,115.5 132.6,117.4 143.9,118.5 155.1,119.0 166.4,119.1 177.6,119.3 188.9,119.4 200.1,119.7 211.4,119.4 222.6,119.9 233.8,120.4 245.1,120.4 256.3,120.4 267.6,120.1 278.8,121.5 290.1,120.7 301.3,120.1 312.6,120.0 323.8,119.6 335.1,118.7 346.3,119.8 357.6,119.3 368.8,117.9 380.0,117.3 391.3,117.7 402.5,117.9 413.8,118.2 425.0,117.1 436.3,117.3 447.5,118.3 458.8,118.1 470.0,118.5 481.3,117.5 492.5,118.1 503.8,117.1 515.0,116.9 526.2,117.5 537.5,116.6 548.7,116.5 560.0,115.8 571.2,117.1 582.5,115.9 593.7,114.6 605.0,115.2 616.2,115.8 627.5,114.9 638.7,112.7 650.0,114.7 661.2,114.5 672.4,112.7 683.7,113.5 694.9,114.2 706.2,113.9 717.4,112.2 728.7,112.6 739.9,110.4 751.2,112.5 762.4,113.3 773.7,112.8 784.9,113.3 796.2,110.8 807.4,112.8"/>
<polyline points="65.2,98.2 76.4,99.3 87.6,102.3 98.9,106.3 110.1,110.7 121.4,114.8 132.6,118.2 143.9,120.7 155.1,122.4 166.4,123.5 177.6,124.2 188.9,124.7 200.1,124.7 211.4,125.0 222.6,125.3 233.8,125.6 245.1,126.0 256.3,125.3 267.6,125.9 278.8,124.8 290.1,126.5 301.3,125.5 312.6,125.1 323.8,126.0 335.1,124.6 346.3,125.1 357.6,125.0 368.8,125.8 380.0,124.6 391.3,124.3 402.5,124.5 413.8,123.1 425.0,123.6 436.3,124.8 447.5,122.7 458.8,121.3 470.0,122.5 481.3,121.2 492.5,121.9 503.8,121.3 515.0,123.3 526.2,122.7 537.5,121.7 548.7,122.1 560.0,123.4 571.2,121.6 582.5,122.2 593.7,123.5 605.0,124.7 616.2,122.7 627.5,123.9 638.7,123.0 650.0,122.8 661.2,124.3 672.4,124.3 683.7,123.5 694.9,124.6 706.2,126.4 717.4,124.1 728.7,124.5 739.9,125.4 751.2,124.3 762.4,125.1 773.7,124.9 784.9,123.3 796.2,125.3 807.4,125.1"/>
<polyline points="65.2,96.6 76.4,97.5 87.6,100.0 98.9,103.4 110.1,106.8 121.4,109.5 132.6,111.1 143.9,111.9 155.1,112.3 166.4,112.4 177.6,112.4 188.9,112.5 200.1,112.7 211.4,112.5 222.6,113.0 233.8,113.1 245.1,112.8 256.3,112.5 267.6,112.3 278.8,112.9 290.1,113.0 301.3,112.8 312.6,113.1 323.8,113.2 335.1,112.7 346.3,113.2 357.6,112.9 368.8,111.9 380.0,112.1 391.3,112.2 402.5,111.1 413.8,111.2 425.0,110.2 436.3,110.7 447.5,110.2 458.8,110.2 470.0,108.2 481.3,107.6 492.5,107.5 503.8,107.9 515.0,107.9 526.2,108.1 537.5,107.5 548.7,108.1 560.0,108.7 571.2,107.1 582.5,107.1 593.7,107.3 605.0,107.6 616.2,107.5 627.5,106.7 638.7,106.1 650.0,106.7 661.2,105.4 672.4,105.1 683.7,102.3 694.9,103.7 706.2,102.7 717.4,101.5 728.7,99.6 739.9,99.8 751.2,96.4 762.4,96.7 773.7,99.3 784.9,96.1 796.2,95.5 807.4,96.9"/>
<polyline points="65.2,95.0 76.4,96.4 87.6,100.2 98.9,105.3 110.1,110.6 121.4,115.5 132.6,119.4 143.9,122.2 155.1,124.0 166.4,125.2 177.6,126.0 188.9,126.5 200.1,126.8 211.4,126.8 222.6,127.0 233.8,126.9 245.1,126.2 256.3,126.5 267.6,126.3 278.8,126.0 290.1,125.0 301.3,125.6 312.6,125.4 323.8,124.5 335.1,124.5 346.3,124.5 357.6,125.9 368.8,125.5 380.0,126.3 391.3,126.0 402.5,127.3 413.8,126.6 425.0,125.8 436.3,126.3 447.5,127.8 458.8,125.5 470.0,125.8 481.3,126.2 492.5,126.1 503.8,126.5 515.0,125.7 526.2,127.0 537.5,128.7 548.7,128.6 560.0,127.2 571.2,128.0 582.5,128.5 593.7,129.9 605.0,128.8 616.2,128.1 627.5,128.4 638.7,127.4 650.0,126.4 661.2,125.9 672.4,125.9 683.7,125.6 694.9,126.9 706.2,126.0 717.4,125.1 728.7,124.5 739.9,126.4 751.2,125.9 762.4,127.3 773.7,128.6 784.9,127.4 796.2,127.5 807.4,128.9"/>
<polyline points="65.2,93.3 76.4,94.2 87.6,96.6 98.9,100.1 110.1,103.8 121.4,107.2 132.6,109.9 143.9,111.8 155.1,112.9 166.4,113.6 177.6,113.7 188.9,114.0 200.1,114.0 211.4,114.4 222.6,114.5 233.8,114.7 245.1,115.2 256.3,115.1 267.6,115.6 278.8,115.4 290.1,114.7 301.3,115.1 312.6,115.3 323.8,114.0 335.1,114.0 346.3,114.5 357.6,115.4 368.8,113.6 380.0,113.5 391.3,114.6 402.5,113.4 413.8,114.8 425.0,114.4 436.3,114.4 447.5,113.8 458.8,113.6 470.0,111.9 481.3,112.4 492.5,110.9 503.8,110.2 515.0,109.0 526.2,108.7 537.5,107.2 548.7,105.3 560.0,105.2 571.2,106.4 582.5,105.6 593.7,106.1 605.0,106.0 616.2,106.1 627.5,106.7 638.7,105.3 650.0,104.7 661.2,105.0 672.4,105.0 683.7,103.6 694.9,103.6 706.2,100.9 717.4,98.6 728.7,102.5 739.9,98.8 751.2,98.5 762.4,98.0 773.7,98.4 784.9,99.7 796.2,98.4 807.4,99.0"/>
<polyline points="65.2,91.6 76.4,92.5 87.6,94.7 98.9,97.9 110.1,101.3 121.4,104.4 132.6,107.0 143.9,108.9 155.1,110.1 166.4,110.9 177.6,111.2 188.9,111.3 200.1,111.2 211.4,111.3 222.6,111.1 233.8,111.0 245.1,110.5 256.3,111.2 267.6,110.6 278.8,109.5 290.1,111.3 301.3,111.7 312.6,111.1 323.8,110.9 335.1,109.8 346.3,110.3 357.6,109.6 368.8,110.3 380.0,109.6 391.3,109.0 402.5,109.2 413.8,108.1 425.0,108.1 436.3,107.5 447.5,108.3 458.8,108.6 470.0,106.2 481.3,107.0 492.5,107.0 503.8,105.0 515.0,105.9 526.2,106.1 537.5,106.6 548.7,105.4 560.0,105.1 571.2,104.9 582.5,103.1 593.7,103.2 605.0,103.0 616.2,103.9 627.5,103.6 638.7,102.1 650.0,103.0 661.2,103.9 672.4,103.4 683.7,104.0 694.9,104.7 706.2,104.8 717.4,104.1 728.7,104.6 739.9,105.8 751.2,105.7 762.4,104.6 773.7,105.9 784.9,104.8 796.2,105.2 807.4,106.7"/>
<polyline points="65.2,89.8 76.4,91.3 87.6,96.1 98.9,103.0 110.1,110.4 121.4,116.9 132.6,121.6 143.9,124.6 155.1,126.3 166.4,127.1 177.6,127.5 188.9,127.6 200.1,127.6 211.4,127.7 222.6,127.6 233.8,127.4 245.1,127.9 256.3,127.0 267.6,127.6 278.8,127.6 290.1,128.1 301.3,127.8 312.6,127.2 323.8,128.1 335.1,127.8 346.3,127.7 357.6,127.7 368.8,126.4 380.0,126.9 391.3,125.2 402.5,126.7 413.8,125.9 425.0,125.4 436.3,125.8 447.5,126.4 458.8,125.3 470.0,124.7 481.3,125.2 492.5,124.3 503.8,125.7 515.0,124.1 526.2,122.7 537.5,123.5 548.7,123.5 560.0,124.6 571.2,124.7 582.5,123.7 593.7,125.1 605.0,124.6 616.2,126.2 627.5,125.5 638.7,126.1 650.0,128.6 661.2,127.1 672.4,126.9 683.7,127.3 694.9,127.8 706.2,127.2 717.4,128.8 728.7,129.7 739.9,128.4 751.2,127.5 762.4,130.3 773.7,128.7 784.9,130.8 796.2,132.5 807.4,132.3"/>
<polyline points="65.2,87.9 76.4,88.4 87.6,90.5 98.9,94.2 110.1,98.8 121.4,103.8 132.6,108.3 143.9,112.0 155.1,114.7 166.4,116.6 177.6,117.6 188.9,118.3 200.1,118.7 211.4,118.7 222.6,119.0 233.8,119.4 245.1,119.0 256.3,119.7 267.6,119.3 278.8,119.4 290.1,118.8 301.3,118.9 312.6,118.9 323.8,118.3 335.1,118.0 346.3,117.9 357.6,117.3 368.8,118.5 380.0,117.6 391.3,116.9 402.5,117.8 413.8,119.2 425.0,117.3 436.3,118.0 447.5,117.3 458.8,117.4 470.0,117.0 481.3,116.4 492.5,116.9 503.8,116.2 515.0,117.5 526.2,117.1 537.5,116.4 548.7,115.2 560.0,117.2 571.2,117.0 582.5,116.4 593.7,117.7 605.0,118.6 616.2,119.4 627.5,117.2 638.7,118.8 650.0,117.4 661.2,116.9 672.4,117.8 683.7,116.0 694.9,117.8 706.2,115.3 717.4,115.6 728.7,113.8 739.9,113.4 751.2,113.2 762.4,112.5 773.7,113.7 784.9,114.5 796.2,114.3 807.4,111.9"/>
<polyline points="65.2,85.8 76.4,87.0 87.6,90.8 98.9,96.9 110.1,103.8 121.4,110.4 132.6,115.7 143.9,119.4 155.1,121.7 166.4,123.0 177.6,123.7 188.9,124.2 200.1,123.9 211.4,124.1 222.6,124.2 233.8,123.6 245.1,123.1 256.3,123.3 267.6,123.2 278.8,123.3 290.1,123.2 301.3,122.4 312.6,123.0 323.8,122.9 335.1,122.9 346.3,124.8 357.6,123.2 368.8,122.8 380.0,122.9 391.3,123.6 402.5,122.9 413.8,121.6 425.0,121.4 436.3,121.0 447.5,121.7 458.8,120.6 470.0,119.8 481.3,120.8 492.5,120.0 503.8,120.6 515.0,121.0 526.2,122.4 537.5,122.7 548.7,123.0 560.0,121.9 571.2,121.9 582.5,123.8 593.7,124.1 605.0,123.0 616.2,122.1 627.5,123.1 638.7,123.1 650.0,123.5 661.2,123.8 672.4,124.9 683.7,124.8 694.9,125.0 706.2,126.0 717.4,124.4 728.7,126.9 739.9,125.8 751.2,125.6 762.4,122.8 773.7,121.7 784.9,122.4 796.2,120.4 807.4,119.9"/>
<polyline points="65.2,83.7 76.4,84.7 87.6,88.0 98.9,93.3 110.1,99.2 121.4,104.6 132.6,108.6 143.9,111.2 155.1,112.6 166.4,113.2 177.6,113.4 188.9,113.7 200.1,113.8 211.4,113.9 222.6,114.0 233.8,113.7 245.1,114.0 256.3,114.0 267.6,114.0 278.8,114.1 290.1,113.3 301.3,114.0 312.6,114.2 323.8,114.3 335.1,113.8 346.3,113.1 357.6,112.9 368.8,112.6 380.0,112.7 391.3,112.0 402.5,111.8 413.8,112.7 425.0,111.7 436.3,111.7 447.5,112.2 458.8,111.4 470.0,112.2 481.3,112.9 492.5,111.9 503.8,111.5 515.0,113.7 526.2,112.9 537.5,112.2 548.7,112.3 560.0,111.7 571.2,111.2 582.5,113.2 593.7,110.8 605.0,112.2 616.2,111.1 627.5,110.6 638.7,108.8 650.0,110.1 661.2,108.1 672.4,109.2 683.7,105.7 694.9,107.8 706.2,107.2 717.4,108.2 728.7,107.6 739.9,105.8 751.2,106.9 762.4,108.4 773.7,107.8 784.9,107.4 796.2,105.3 807.4,107.1"/>
<polyline points="65.2,81.5 76.4,82.1 87.6,84.1 98.9,87.3 110.1,91.3 121.4,95.5 132.6,99.5 143.9,102.7 155.1,105.2 166.4,106.9 177.6,108.0 188.9,108.5 200.1,108.8 211.4,109.3 222.6,108.9 233.8,109.1 245.1,109.0 256.3,108.8 267.6,108.7 278.8,109.0 290.1,108.7 301.3,108.5 312.6,107.9 323.8,109.4 335.1,107.3 346.3,108.3 357.6,106.4 368.8,107.1 380.0,106.2 391.3,107.2 402.5,105.9 413.8,106.6 425.0,106.5 436.3,106.4 447.5,108.2 458.8,107.5 470.0,107.4 481.3,106.1 492.5,106.1 503.8,105.2 515.0,105.2 526.2,104.3 537.5,105.5 548.7,104.4 560.0,104.8 571.2,105.2 582.5,105.5 593.7,104.1 605.0,104.8 616.2,104.5 627.5,104.8 638.7,105.0 650.0,101.6 661.2,104.0 672.4,105.1 683.7,103.9 694.9,103.5 706.2,104.5 717.4,101.7 728.7,103.2 739.9,101.2 751.2,101.7 762.4,101.4 773.7,96.8 784.9,100.1 796.2,100.5 807.4,99.0"/>
<polyline points="65.2,79.0 76.4,79.5 87.6,81.4 98.9,84.6 110.1,88.7 121.4,93.2 132.6,97.4 143.9,101.1 155.1,103.9 166.4,105.9 177.6,107.4 188.9,108.1 200.1,108.8 211.4,109.0 222.6,108.6 233.8,108.9 245.1,109.5 256.3,108.7 267.6,109.1 278.8,108.4 290.1,109.6 301.3,108.9 312.6,109.0 323.8,109.1 335.1,109.4 346.3,107.7 357.6,108.8 368.8,108.9 380.0,109.6 391.3,108.0 402.5,107.8 413.8,108.5 425.0,109.1 436.3,107.6 447.5,107.7 458.8,108.4 470.0,105.7 481.3,106.3 492.5,107.1 503.8,106.6 515.0,105.2 526.2,104.5 537.5,104.7 548.7,104.5 560.0,104.9 571.2,102.7 582.5,104.3 593.7,103.6 605.0,103.2 616.2,103.4 627.5,102.1 638.7,100.9 650.0,103.7 661.2,101.4 672.4,99.5 683.7,98.7 694.9,99.9 706.2,98.3 717.4,98.2 728.7,97.9 739.9,98.3 751.2,96.4 762.4,96.1 773.7,95.6 784.9,97.0 796.2,97.2 807.4,96.3"/>
<polyline points="65.2,76.4 76.4,78.0 87.6,82.7 98.9,89.7 110.1,97.7 121.4,105.5 132.6,112.2 143.9,117.3 155.1,120.8 166.4,123.0 177.6,124.3 188.9,124.9 200.1,125.1 211.4,125.1 222.6,125.2 233.8,125.1 245.1,125.0 256.3,125.2 267.6,125.2 278.8,125.7 290.1,125.3 301.3,125.0 312.6,126.0 323.8,125.2 335.1,126.3 346.3,125.7 357.6,125.6 368.8,126.7 380.0,127.3 391.3,127.1 402.5,128.0 413.8,128.6 425.0,127.8 436.3,129.9 447.5,128.4 458.8,129.7 470.0,128.6 481.3,129.5 492.5,127.6 503.8,128.8 515.0,129.6 526.2,125.0 537.5,126.3 548.7,125.4 560.0,124.2 571.2,123.4 582.5,121.9 593.7,121.8 605.0,118.5 616.2,120.3 627.5,118.6 638.7,117.7 650.0,119.0 661.2,118.0 672.4,119.4 683.7,120.1 694.9,120.2 706.2,118.6 717.4,118.8 728.7,120.9 739.9,119.1 751.2,121.0 762.4,119.9 773.7,119.3 784.9,122.1 796.2,119.4 807.4,120.5"/>
<polyline points="65.2,73.5 76.4,74.3 87.6,77.1 98.9,81.8 110.1,88.1 121.4,94.9 132.6,101.4 143.9,106.9 155.1,111.0 166.4,113.7 177.6,115.3 188.9,116.5 200.1,116.7 211.4,117.0 222.6,117.4 233.8,116.9 245.1,117.2 256.3,116.8 267.6,116.6 278.8,117.1 290.1,116.1 301.3,116.8 312.6,117.3 323.8,117.9 335.1,116.0 346.3,117.6 357.6,117.2 368.8,117.0 380.0,116.5 391.3,117.6 402.5,117.9 413.8,116.0 425.0,116.5 436.3,115.2 447.5,113.1 458.8,114.3 470.0,112.9 481.3,113.6 492.5,110.2 503.8,112.2 515.0,111.4 526.2,111.5 537.5,111.7 548.7,110.2 560.0,111.0 571.2,111.4 582.5,110.9 593.7,110.4 605.0,109.8 616.2,109.3 627.5,109.7 638.7,109.0 650.0,106.3 661.2,108.0 672.4,106.1 683.7,107.5 694.9,106.6 706.2,107.4 717.4,108.6 728.7,107.2 739.9,105.7 751.2,105.3 762.4,105.4 773.7,106.9 784.9,106.4 796.2,107.0 807.4,105.0"/>
<polyline points="65.2,70.4 76.4,71.7 87.6,75.3 98.9,80.3 110.1,86.0 121.4,91.7 132.6,96.8 143.9,101.0 155.1,104.2 166.4,106.5 177.6,108.0 188.9,109.1 200.1,109.5 211.4,109.5 222.6,109.6 233.8,109.1 245.1,109.5 256.3,109.8 267.6,109.9 278.8,109.3 290.1,108.6 301.3,109.9 312.6,109.8 323.8,109.2 335.1,109.4 346.3,108.8 357.6,109.4 368.8,109.1 380.0,109.0 391.3,108.7 402.5,107.8 413.8,109.2 425.0,109.2 436.3,108.8 447.5,107.7 458.8,107.1 470.0,106.4 481.3,106.2 492.5,105.9 503.8,106.8 515.0,105.6 526.2,104.4 537.5,105.3 548.7,104.4 560.0,104.1 571.2,103.1 582.5,104.0 593.7,104.5 605.0,103.2 616.2,103.0 627.5,101.8 638.7,102.8 650.0,102.2 661.2,102.1 672.4,101.7 683.7,98.8 694.9,102.6 706.2,99.0 717.4,99.7 728.7,98.2 739.9,99.1 751.2,96.7 762.4,97.1 773.7,95.1 784.9,93.7 796.2,96.0 807.4,96.0"/>
<polyline points="65.2,66.8 76.4,67.4 87.6,69.3 98.9,72.7 110.1,77.3 121.4,82.6 132.6,88.3 143.9,93.6 155.1,98.4 166.4,102.2 177.6,105.1 188.9,107.0 200.1,108.4 211.4,109.1 222.6,109.9 233.8,109.8 245.1,109.7 256.3,110.3 267.6,110.5 278.8,110.2 290.1,110.2 301.3,110.1 312.6,110.1 323.8,110.1 335.1,108.8 346.3,110.0 357.6,108.3 368.8,109.0 380.0,107.9 391.3,108.4 402.5,108.5 413.8,108.0 425.0,107.9 436.3,106.4 447.5,107.7 458.8,107.8 470.0,108.0 481.3,107.4 492.5,107.3 503.8,106.7 515.0,107.4 526.2,107.4 537.5,106.0 548.7,104.8 560.0,104.2 571.2,105.0 582.5,104.0 593.7,102.7 605.0,103.0 616.2,103.3 627.5,101.6 638.7,101.9 650.0,101.1 661.2,100.5 672.4,101.6 683.7,102.1 694.9,101.6 706.2,99.9 717.4,100.3 728.7,99.3 739.9,100.0 751.2,98.5 762.4,99.3 773.7,99.1 784.9,98.1 796.2,97.9 807.4,97.9"/>
<polyline points="65.2,62.7 76.4,63.5 87.6,66.3 98.9,71.0 110.1,77.1 121.4,84.0 132.6,90.8 143.9,96.8 155.1,101.7 166.4,105.3 177.6,107.7 188.9,109.3 200.1,110.3 211.4,110.3 222.6,110.9 233.8,111.4 245.1,111.3 256.3,112.2 267.6,111.7 278.8,113.5 290.1,113.6 301.3,113.8 312.6,114.1 323.8,114.9 335.1,113.9 346.3,114.0 357.6,114.2 368.8,113.6 380.0,113.9 391.3,112.8 402.5,113.4 413.8,113.5 425.0,112.8 436.3,112.8 447.5,112.4 458.8,112.2 470.0,111.6 481.3,113.7 492.5,113.9 503.8,112.4 515.0,111.4 526.2,111.2 537.5,111.6 548.7,111.2 560.0,110.6 571.2,108.3 582.5,109.2 593.7,108.1 605.0,108.8 616.2,106.3 627.5,106.6 638.7,106.1 650.0,105.5 661.2,104.6 672.4,101.2 683.7,102.1 694.9,101.0 706.2,101.3 717.4,100.7 728.7,100.3 739.9,97.7 751.2,96.0 762.4,95.2 773.7,96.4 784.9,93.9 796.2,95.0 807.4,93.3"/>
<polyline points="65.2,57.7 76.4,58.8 87.6,62.4 98.9,68.7 110.1,76.9 121.4,85.8 132.6,94.4 143.9,101.8 155.1,107.5 166.4,111.5 177.6,113.9 188.9,115.4 200.1,116.0 211.4,116.5 222.6,116.6 233.8,116.8 245.1,116.4 256.3,116.7 267.6,117.0 278.8,116.9 290.1,116.5 301.3,116.5 312.6,116.6 323.8,116.0 335.1,116.8 346.3,117.8 357.6,116.8 368.8,117.9 380.0,118.0 391.3,117.0 402.5,117.7 413.8,117.3 425.0,117.5 436.3,117.2 447.5,118.2 458.8,116.4 470.0,116.1 481.3,117.0 492.5,115.9 503.8,116.1 515.0,115.8 526.2,115.6 537.5,117.5 548.7,116.0 560.0,116.7 571.2,116.0 582.5,116.8 593.7,115.0 605.0,115.3 616.2,116.8 627.5,116.5 638.7,116.8 650.0,116.8 661.2,116.2 672.4,117.8 683.7,118.1 694.9,115.6 706.2,116.0 717.4,116.4 728.7,116.2 739.9,116.5 751.2,114.8 762.4,115.8 773.7,113.5 784.9,113.0 796.2,113.7 807.4,111.7"/>
<polyline points="65.2,51.4 76.4,52.4 87.6,55.7 98.9,61.4 110.1,68.9 121.4,77.3 132.6,85.7 143.9,93.2 155.1,99.3 166.4,103.9 177.6,107.0 188.9,108.8 200.1,109.9 211.4,110.5 222.6,111.1 233.8,110.6 245.1,110.8 256.3,110.8 267.6,110.3 278.8,109.2 290.1,110.7 301.3,110.0 312.6,110.9 323.8,111.0 335.1,110.4 346.3,109.9 357.6,110.3 368.8,110.4 380.0,109.9 391.3,110.4 402.5,111.1 413.8,111.4 425.0,111.0 436.3,110.5 447.5,110.9 458.8,110.6 470.0,110.7 481.3,110.6 492.5,110.5 503.8,109.8 515.0,107.6 526.2,107.6 537.5,106.8 548.7,107.3 560.0,106.9 571.2,105.7 582.5,106.1 593.7,104.3 605.0,104.5 616.2,103.4 627.5,104.2 638.7,101.3 650.0,102.1 661.2,101.1 672.4,101.7 683.7,101.0 694.9,99.0 706.2,100.5 717.4,97.0 728.7,98.0 739.9,95.7 751.2,96.5 762.4,95.1 773.7,94.2 784.9,92.6 796.2,93.7 807.4,91.5"/>
<polyline points="65.2,42.5 76.4,43.6 87.6,47.2 98.9,53.2 110.1,61.1 121.4,69.5 132.6,78.2 143.9,85.0 155.1,90.1 166.4,94.1 177.6,97.4 188.9,99.9 200.1,102.1 211.4,103.6 222.6,104.7 233.8,105.5 245.1,106.0 256.3,106.3 267.6,106.6 278.8,106.9 290.1,106.1 301.3,105.7 312.6,105.9 323.8,106.3 335.1,106.1 346.3,107.1 357.6,107.1 368.8,107.2 380.0,107.2 391.3,106.6 402.5,107.7 413.8,107.7 425.0,108.3 436.3,107.8 447.5,108.4 458.8,106.7 470.0,107.3 481.3,106.5 492.5,106.1 503.8,106.7 515.0,106.7 526.2,106.9 537.5,107.3 548.7,108.6 560.0,106.7 571.2,107.3 582.5,107.4 593.7,106.8 605.0,106.0 616.2,105.0 627.5,106.0 638.7,105.7 650.0,103.3 661.2,103.3 672.4,102.8 683.7,103.6 694.9,104.6 706.2,102.2 717.4,102.4 728.7,104.5 739.9,103.9 751.2,103.6 762.4,102.6 773.7,104.1 784.9,104.9 796.2,105.8 807.4,106.0"/>
<polyline points="65.2,25.2 76.4,26.1 87.6,28.3 98.9,31.9 110.1,38.2 121.4,47.2 132.6,56.8 143.9,67.7 155.1,77.6 166.4,84.8 177.6,90.1 188.9,94.1 200.1,97.1 211.4,99.2 222.6,100.7 233.8,101.8 245.1,102.8 256.3,103.6 267.6,104.4 278.8,105.0 290.1,105.4 301.3,105.8 312.6,106.3 323.8,106.2 335.1,106.7 346.3,106.4 357.6,107.7 368.8,106.8 380.0,106.9 391.3,107.6 402.5,104.9 413.8,106.6 425.0,104.8 436.3,104.4 447.5,103.6 458.8,104.1 470.0,105.0 481.3,102.3 492.5,102.2 503.8,101.2 515.0,101.4 526.2,99.9 537.5,100.1 548.7,100.4 560.0,98.1 571.2,100.1 582.5,101.2 593.7,99.1 605.0,98.6 616.2,98.3 627.5,99.0 638.7,98.3 650.0,98.7 661.2,98.1 672.4,96.8 683.7,97.6 694.9,96.2 706.2,96.8 717.4,96.3 728.7,96.5 739.9,94.9 751.2,95.8 762.4,96.5 773.7,95.5 784.9,94.3 796.2,95.2 807.4,96.4"/>
</g>
<rect x="65.15" y="7.2" width="749.8" height="255.1" stroke-width="1.6" stroke="#000" fill="none"/>
<g stroke="#000" fill="none">
<g stroke-width="0.8" stroke="#333">
<path d="M65.15,483.2h6.5 M814.9,483.2h-6.5"/>
<path d="M315.1,634.95v-6.5 M315.1,331.55v6.5"/>
<path d="M565.0,634.95v-6.5 M565.0,331.55v6.5"/>
</g></g>
<g stroke="#000" stroke-width="1.25" fill="none" stroke-dasharray="24 12" stroke-dashoffset="1">
<path d="M65.2,635.0L440.0,572.7"/>
<path d="M440.0,572.7L814.9,510.4"/>
</g>
<polyline points="65.2,331.6 90.1,351.0 115.1,392.5 140.1,436.2 165.1,469.9 190.1,493.0 215.1,508.7 240.1,518.6 265.1,524.7 290.1,529.0 315.1,531.5 340.1,532.3 365.1,532.5 390.0,531.9 415.0,530.9 440.0,529.4 465.0,527.4 490.0,525.4 515.0,523.1 540.0,520.4 565.0,517.7 590.0,515.0 615.0,511.9 640.0,508.6 665.0,505.2 689.9,501.9 714.9,498.4 739.9,494.9 764.9,491.4 789.9,488.0 814.9,484.5" fill="none" stroke="#ff0000" stroke-width="2" stroke-linejoin="round"/>
<rect x="61.05" y="327.45" width="8.2" height="8.2" fill="none" stroke="#ff0000" stroke-width="1.8"/>
<rect x="86.04" y="346.87" width="8.2" height="8.2" fill="none" stroke="#ff0000" stroke-width="1.8"/>
<rect x="111.03" y="388.43" width="8.2" height="8.2" fill="none" stroke="#ff0000" stroke-width="1.8"/>
<rect x="136.03" y="432.12" width="8.2" height="8.2" fill="none" stroke="#ff0000" stroke-width="1.8"/>
<rect x="161.02" y="465.80" width="8.2" height="8.2" fill="none" stroke="#ff0000" stroke-width="1.8"/>
<rect x="186.01" y="488.86" width="8.2" height="8.2" fill="none" stroke="#ff0000" stroke-width="1.8"/>
<rect x="211.00" y="504.64" width="8.2" height="8.2" fill="none" stroke="#ff0000" stroke-width="1.8"/>
<rect x="235.99" y="514.50" width="8.2" height="8.2" fill="none" stroke="#ff0000" stroke-width="1.8"/>
<rect x="260.98" y="520.62" width="8.2" height="8.2" fill="none" stroke="#ff0000" stroke-width="1.8"/>
<rect x="285.97" y="524.90" width="8.2" height="8.2" fill="none" stroke="#ff0000" stroke-width="1.8"/>
<rect x="310.97" y="527.39" width="8.2" height="8.2" fill="none" stroke="#ff0000" stroke-width="1.8"/>
<rect x="335.96" y="528.18" width="8.2" height="8.2" fill="none" stroke="#ff0000" stroke-width="1.8"/>
<rect x="360.95" y="528.36" width="8.2" height="8.2" fill="none" stroke="#ff0000" stroke-width="1.8"/>
<rect x="385.94" y="527.79" width="8.2" height="8.2" fill="none" stroke="#ff0000" stroke-width="1.8"/>
<rect x="410.93" y="526.78" width="8.2" height="8.2" fill="none" stroke="#ff0000" stroke-width="1.8"/>
<rect x="435.92" y="525.27" width="8.2" height="8.2" fill="none" stroke="#ff0000" stroke-width="1.8"/>
<rect x="460.92" y="523.33" width="8.2" height="8.2" fill="none" stroke="#ff0000" stroke-width="1.8"/>
<rect x="485.91" y="521.26" width="8.2" height="8.2" fill="none" stroke="#ff0000" stroke-width="1.8"/>
<rect x="510.90" y="518.96" width="8.2" height="8.2" fill="none" stroke="#ff0000" stroke-width="1.8"/>
<rect x="535.89" y="516.26" width="8.2" height="8.2" fill="none" stroke="#ff0000" stroke-width="1.8"/>
<rect x="560.88" y="513.56" width="8.2" height="8.2" fill="none" stroke="#ff0000" stroke-width="1.8"/>
<rect x="585.88" y="510.86" width="8.2" height="8.2" fill="none" stroke="#ff0000" stroke-width="1.8"/>
<rect x="610.87" y="507.76" width="8.2" height="8.2" fill="none" stroke="#ff0000" stroke-width="1.8"/>
<rect x="635.86" y="504.48" width="8.2" height="8.2" fill="none" stroke="#ff0000" stroke-width="1.8"/>
<rect x="660.85" y="501.15" width="8.2" height="8.2" fill="none" stroke="#ff0000" stroke-width="1.8"/>
<rect x="685.84" y="497.78" width="8.2" height="8.2" fill="none" stroke="#ff0000" stroke-width="1.8"/>
<rect x="710.83" y="494.32" width="8.2" height="8.2" fill="none" stroke="#ff0000" stroke-width="1.8"/>
<rect x="735.82" y="490.80" width="8.2" height="8.2" fill="none" stroke="#ff0000" stroke-width="1.8"/>
<rect x="760.82" y="487.34" width="8.2" height="8.2" fill="none" stroke="#ff0000" stroke-width="1.8"/>
<rect x="785.81" y="483.85" width="8.2" height="8.2" fill="none" stroke="#ff0000" stroke-width="1.8"/>
<rect x="810.80" y="480.36" width="8.2" height="8.2" fill="none" stroke="#ff0000" stroke-width="1.8"/>
<polyline points="65.2,331.6 90.1,365.5 115.1,428.3 140.1,477.5 165.1,506.9 190.1,523.9 215.1,533.0 240.1,538.5 265.1,541.9 290.1,543.1 315.1,543.4 340.1,543.3 365.1,542.5 390.0,540.8 415.0,538.8 440.0,536.7 465.0,534.2 490.0,531.7 515.0,528.9 540.0,526.0 565.0,523.1 590.0,520.1 615.0,517.2 640.0,514.3 665.0,510.4 689.9,506.3 714.9,503.0 739.9,499.6 764.9,496.3 789.9,493.1 814.9,489.9" fill="none" stroke="#228b22" stroke-width="2" stroke-linejoin="round"/>
<circle cx="65.15" cy="331.55" r="3.9" fill="none" stroke="#228b22" stroke-width="1.8"/>
<circle cx="90.14" cy="365.53" r="3.9" fill="none" stroke="#228b22" stroke-width="1.8"/>
<circle cx="115.13" cy="428.33" r="3.9" fill="none" stroke="#228b22" stroke-width="1.8"/>
<circle cx="140.12" cy="477.49" r="3.9" fill="none" stroke="#228b22" stroke-width="1.8"/>
<circle cx="165.12" cy="506.92" r="3.9" fill="none" stroke="#228b22" stroke-width="1.8"/>
<circle cx="190.11" cy="523.91" r="3.9" fill="none" stroke="#228b22" stroke-width="1.8"/>
<circle cx="215.10" cy="533.01" r="3.9" fill="none" stroke="#228b22" stroke-width="1.8"/>
<circle cx="240.09" cy="538.47" r="3.9" fill="none" stroke="#228b22" stroke-width="1.8"/>
<circle cx="265.08" cy="541.93" r="3.9" fill="none" stroke="#228b22" stroke-width="1.8"/>
<circle cx="290.07" cy="543.08" r="3.9" fill="none" stroke="#228b22" stroke-width="1.8"/>
<circle cx="315.07" cy="543.44" r="3.9" fill="none" stroke="#228b22" stroke-width="1.8"/>
<circle cx="340.06" cy="543.32" r="3.9" fill="none" stroke="#228b22" stroke-width="1.8"/>
<circle cx="365.05" cy="542.50" r="3.9" fill="none" stroke="#228b22" stroke-width="1.8"/>
<circle cx="390.04" cy="540.77" r="3.9" fill="none" stroke="#228b22" stroke-width="1.8"/>
<circle cx="415.03" cy="538.83" r="3.9" fill="none" stroke="#228b22" stroke-width="1.8"/>
<circle cx="440.02" cy="536.71" r="3.9" fill="none" stroke="#228b22" stroke-width="1.8"/>
<circle cx="465.02" cy="534.22" r="3.9" fill="none" stroke="#228b22" stroke-width="1.8"/>
<circle cx="490.01" cy="531.73" r="3.9" fill="none" stroke="#228b22" stroke-width="1.8"/>
<circle cx="515.00" cy="528.85" r="3.9" fill="none" stroke="#228b22" stroke-width="1.8"/>
<circle cx="539.99" cy="526.03" r="3.9" fill="none" stroke="#228b22" stroke-width="1.8"/>
<circle cx="564.98" cy="523.06" r="3.9" fill="none" stroke="#228b22" stroke-width="1.8"/>
<circle cx="589.98" cy="520.14" r="3.9" fill="none" stroke="#228b22" stroke-width="1.8"/>
<circle cx="614.97" cy="517.23" r="3.9" fill="none" stroke="#228b22" stroke-width="1.8"/>
<circle cx="639.96" cy="514.35" r="3.9" fill="none" stroke="#228b22" stroke-width="1.8"/>
<circle cx="664.95" cy="510.40" r="3.9" fill="none" stroke="#228b22" stroke-width="1.8"/>
<circle cx="689.94" cy="506.31" r="3.9" fill="none" stroke="#228b22" stroke-width="1.8"/>
<circle cx="714.93" cy="502.97" r="3.9" fill="none" stroke="#228b22" stroke-width="1.8"/>
<circle cx="739.92" cy="499.63" r="3.9" fill="none" stroke="#228b22" stroke-width="1.8"/>
<circle cx="764.92" cy="496.30" r="3.9" fill="none" stroke="#228b22" stroke-width="1.8"/>
<circle cx="789.91" cy="493.11" r="3.9" fill="none" stroke="#228b22" stroke-width="1.8"/>
<circle cx="814.90" cy="489.92" r="3.9" fill="none" stroke="#228b22" stroke-width="1.8"/>
<polyline points="65.2,331.6 90.1,390.7 115.1,471.4 140.1,513.9 165.1,533.6 190.1,542.8 215.1,548.0 240.1,550.8 265.1,551.9 290.1,551.8 315.1,550.8 340.1,548.3 365.1,546.5 390.0,544.1 415.0,541.5 440.0,538.8 465.0,535.9 490.0,533.1 515.0,530.4 540.0,527.3 565.0,524.2 590.0,521.1 615.0,518.2 640.0,515.3 665.0,511.3 689.9,507.2 714.9,504.0 739.9,500.7 764.9,497.2 789.9,494.2 814.9,491.0" fill="none" stroke="#0000ff" stroke-width="2" stroke-linejoin="round"/>
<path d="M65.15,327.55 L68.65,333.55 L61.65,333.55 Z" fill="none" stroke="#0000ff" stroke-width="1.8"/>
<path d="M90.14,386.71 L93.64,392.71 L86.64,392.71 Z" fill="none" stroke="#0000ff" stroke-width="1.8"/>
<path d="M115.13,467.42 L118.63,473.42 L111.63,473.42 Z" fill="none" stroke="#0000ff" stroke-width="1.8"/>
<path d="M140.12,509.89 L143.62,515.89 L136.62,515.89 Z" fill="none" stroke="#0000ff" stroke-width="1.8"/>
<path d="M165.12,529.61 L168.62,535.61 L161.62,535.61 Z" fill="none" stroke="#0000ff" stroke-width="1.8"/>
<path d="M190.11,538.81 L193.61,544.81 L186.61,544.81 Z" fill="none" stroke="#0000ff" stroke-width="1.8"/>
<path d="M215.10,544.03 L218.60,550.03 L211.60,550.03 Z" fill="none" stroke="#0000ff" stroke-width="1.8"/>
<path d="M240.09,546.79 L243.59,552.79 L236.59,552.79 Z" fill="none" stroke="#0000ff" stroke-width="1.8"/>
<path d="M265.08,547.94 L268.58,553.94 L261.58,553.94 Z" fill="none" stroke="#0000ff" stroke-width="1.8"/>
<path d="M290.07,547.76 L293.57,553.76 L286.57,553.76 Z" fill="none" stroke="#0000ff" stroke-width="1.8"/>
<path d="M315.07,546.79 L318.57,552.79 L311.57,552.79 Z" fill="none" stroke="#0000ff" stroke-width="1.8"/>
<path d="M340.06,544.33 L343.56,550.33 L336.56,550.33 Z" fill="none" stroke="#0000ff" stroke-width="1.8"/>
<path d="M365.05,542.54 L368.55,548.54 L361.55,548.54 Z" fill="none" stroke="#0000ff" stroke-width="1.8"/>
<path d="M390.04,540.05 L393.54,546.05 L386.54,546.05 Z" fill="none" stroke="#0000ff" stroke-width="1.8"/>
<path d="M415.03,537.53 L418.53,543.53 L411.53,543.53 Z" fill="none" stroke="#0000ff" stroke-width="1.8"/>
<path d="M440.02,534.83 L443.52,540.83 L436.52,540.83 Z" fill="none" stroke="#0000ff" stroke-width="1.8"/>
<path d="M465.02,531.92 L468.52,537.92 L461.52,537.92 Z" fill="none" stroke="#0000ff" stroke-width="1.8"/>
<path d="M490.01,529.07 L493.51,535.07 L486.51,535.07 Z" fill="none" stroke="#0000ff" stroke-width="1.8"/>
<path d="M515.00,526.40 L518.50,532.40 L511.50,532.40 Z" fill="none" stroke="#0000ff" stroke-width="1.8"/>
<path d="M539.99,523.30 L543.49,529.30 L536.49,529.30 Z" fill="none" stroke="#0000ff" stroke-width="1.8"/>
<path d="M564.98,520.21 L568.48,526.21 L561.48,526.21 Z" fill="none" stroke="#0000ff" stroke-width="1.8"/>
<path d="M589.98,517.11 L593.48,523.11 L586.48,523.11 Z" fill="none" stroke="#0000ff" stroke-width="1.8"/>
<path d="M614.97,514.20 L618.47,520.20 L611.47,520.20 Z" fill="none" stroke="#0000ff" stroke-width="1.8"/>
<path d="M639.96,511.32 L643.46,517.32 L636.46,517.32 Z" fill="none" stroke="#0000ff" stroke-width="1.8"/>
<path d="M664.95,507.25 L668.45,513.25 L661.45,513.25 Z" fill="none" stroke="#0000ff" stroke-width="1.8"/>
<path d="M689.94,503.22 L693.44,509.22 L686.44,509.22 Z" fill="none" stroke="#0000ff" stroke-width="1.8"/>
<path d="M714.93,499.97 L718.43,505.97 L711.43,505.97 Z" fill="none" stroke="#0000ff" stroke-width="1.8"/>
<path d="M739.92,496.67 L743.42,502.67 L736.42,502.67 Z" fill="none" stroke="#0000ff" stroke-width="1.8"/>
<path d="M764.92,493.21 L768.42,499.21 L761.42,499.21 Z" fill="none" stroke="#0000ff" stroke-width="1.8"/>
<path d="M789.91,490.17 L793.41,496.17 L786.41,496.17 Z" fill="none" stroke="#0000ff" stroke-width="1.8"/>
<path d="M814.90,487.05 L818.40,493.05 L811.40,493.05 Z" fill="none" stroke="#0000ff" stroke-width="1.8"/>
<polyline points="65.2,331.6 90.1,428.3 115.1,509.3 140.1,538.5 165.1,548.6 190.1,554.2 215.1,555.6 240.1,556.6 265.1,556.2 290.1,555.0 315.1,553.3 340.1,551.1 365.1,549.2 390.0,547.0 415.0,544.6 440.0,542.1 465.0,539.6 490.0,536.7 515.0,534.0 540.0,531.6 565.0,528.9 590.0,526.2 615.0,523.5 640.0,520.8 665.0,516.6 689.9,512.7 714.9,510.3 739.9,507.8 764.9,505.5 789.9,503.4 814.9,501.1" fill="none" stroke="#00ffff" stroke-width="2" stroke-linejoin="round"/>
<path d="M65.15,335.55 L68.65,329.55 L61.65,329.55 Z" fill="none" stroke="#00ffff" stroke-width="1.8"/>
<path d="M90.14,432.33 L93.64,426.33 L86.64,426.33 Z" fill="none" stroke="#00ffff" stroke-width="1.8"/>
<path d="M115.13,513.34 L118.63,507.34 L111.63,507.34 Z" fill="none" stroke="#00ffff" stroke-width="1.8"/>
<path d="M140.12,542.47 L143.62,536.47 L136.62,536.47 Z" fill="none" stroke="#00ffff" stroke-width="1.8"/>
<path d="M165.12,552.63 L168.62,546.63 L161.62,546.63 Z" fill="none" stroke="#00ffff" stroke-width="1.8"/>
<path d="M190.11,558.25 L193.61,552.25 L186.61,552.25 Z" fill="none" stroke="#00ffff" stroke-width="1.8"/>
<path d="M215.10,559.64 L218.60,553.64 L211.60,553.64 Z" fill="none" stroke="#00ffff" stroke-width="1.8"/>
<path d="M240.09,560.58 L243.59,554.58 L236.59,554.58 Z" fill="none" stroke="#00ffff" stroke-width="1.8"/>
<path d="M265.08,560.22 L268.58,554.22 L261.58,554.22 Z" fill="none" stroke="#00ffff" stroke-width="1.8"/>
<path d="M290.07,559.03 L293.57,553.03 L286.57,553.03 Z" fill="none" stroke="#00ffff" stroke-width="1.8"/>
<path d="M315.07,557.34 L318.57,551.34 L311.57,551.34 Z" fill="none" stroke="#00ffff" stroke-width="1.8"/>
<path d="M340.06,555.06 L343.56,549.06 L336.56,549.06 Z" fill="none" stroke="#00ffff" stroke-width="1.8"/>
<path d="M365.05,553.24 L368.55,547.24 L361.55,547.24 Z" fill="none" stroke="#00ffff" stroke-width="1.8"/>
<path d="M390.04,550.96 L393.54,544.96 L386.54,544.96 Z" fill="none" stroke="#00ffff" stroke-width="1.8"/>
<path d="M415.03,548.63 L418.53,542.63 L411.53,542.63 Z" fill="none" stroke="#00ffff" stroke-width="1.8"/>
<path d="M440.02,546.11 L443.52,540.11 L436.52,540.11 Z" fill="none" stroke="#00ffff" stroke-width="1.8"/>
<path d="M465.02,543.62 L468.52,537.62 L461.52,537.62 Z" fill="none" stroke="#00ffff" stroke-width="1.8"/>
<path d="M490.01,540.74 L493.51,534.74 L486.51,534.74 Z" fill="none" stroke="#00ffff" stroke-width="1.8"/>
<path d="M515.00,538.04 L518.50,532.04 L511.50,532.04 Z" fill="none" stroke="#00ffff" stroke-width="1.8"/>
<path d="M539.99,535.55 L543.49,529.55 L536.49,529.55 Z" fill="none" stroke="#00ffff" stroke-width="1.8"/>
<path d="M564.98,532.85 L568.48,526.85 L561.48,526.85 Z" fill="none" stroke="#00ffff" stroke-width="1.8"/>
<path d="M589.98,530.15 L593.48,524.15 L586.48,524.15 Z" fill="none" stroke="#00ffff" stroke-width="1.8"/>
<path d="M614.97,527.45 L618.47,521.45 L611.47,521.45 Z" fill="none" stroke="#00ffff" stroke-width="1.8"/>
<path d="M639.96,524.75 L643.46,518.75 L636.46,518.75 Z" fill="none" stroke="#00ffff" stroke-width="1.8"/>
<path d="M664.95,520.62 L668.45,514.62 L661.45,514.62 Z" fill="none" stroke="#00ffff" stroke-width="1.8"/>
<path d="M689.94,516.68 L693.44,510.68 L686.44,510.68 Z" fill="none" stroke="#00ffff" stroke-width="1.8"/>
<path d="M714.93,514.34 L718.43,508.34 L711.43,508.34 Z" fill="none" stroke="#00ffff" stroke-width="1.8"/>
<path d="M739.92,511.83 L743.42,505.83 L736.42,505.83 Z" fill="none" stroke="#00ffff" stroke-width="1.8"/>
<path d="M764.92,509.49 L768.42,503.49 L761.42,503.49 Z" fill="none" stroke="#00ffff" stroke-width="1.8"/>
<path d="M789.91,507.37 L793.41,501.37 L786.41,501.37 Z" fill="none" stroke="#00ffff" stroke-width="1.8"/>
<path d="M814.90,505.06 L818.40,499.06 L811.40,499.06 Z" fill="none" stroke="#00ffff" stroke-width="1.8"/>
<rect x="65.15" y="331.55" width="749.8" height="303.4" stroke-width="1.6" stroke="#000" fill="none"/>
<g font-size="24.6">
<text transform="translate(58.20,16.10) scale(0.965,1)" text-anchor="end">3</text>
<text transform="translate(58.20,58.62) scale(0.965,1)" text-anchor="end">2</text>
<text transform="translate(58.20,101.13) scale(0.965,1)" text-anchor="end">1</text>
<text transform="translate(58.20,143.65) scale(0.965,1)" text-anchor="end">0</text>
<text transform="translate(58.20,186.17) scale(0.965,1)" text-anchor="end">-1</text>
<text transform="translate(58.20,228.68) scale(0.965,1)" text-anchor="end">-2</text>
<text transform="translate(58.20,271.20) scale(0.965,1)" text-anchor="end">-3</text>
<text transform="translate(68.15,283.10) scale(0.965,1)" text-anchor="middle">0</text>
<text transform="translate(255.59,283.10) scale(0.965,1)" text-anchor="middle">0.5</text>
<text transform="translate(443.02,283.10) scale(0.965,1)" text-anchor="middle">1</text>
<text transform="translate(630.46,283.10) scale(0.965,1)" text-anchor="middle">1.5</text>
<text transform="translate(817.90,283.10) scale(0.965,1)" text-anchor="middle">2</text>
<text transform="translate(103.00,27.00) scale(0.965,1)" text-anchor="start"><tspan font-size="22.5">(</tspan><tspan dx="0.5">a</tspan><tspan font-size="22.5" dx="0.5">)</tspan></text>
<text transform="translate(58.20,340.45) scale(0.965,1)" text-anchor="end">1</text>
<text transform="translate(58.20,492.15) scale(0.965,1)" text-anchor="end">0.5</text>
<text transform="translate(58.20,643.85) scale(0.965,1)" text-anchor="end">0</text>
<text transform="translate(68.15,655.30) scale(0.965,1)" text-anchor="middle">0</text>
<text transform="translate(318.07,655.30) scale(0.965,1)" text-anchor="middle">0.5</text>
<text transform="translate(567.98,655.30) scale(0.965,1)" text-anchor="middle">1</text>
<text transform="translate(817.90,655.30) scale(0.965,1)" text-anchor="middle">1.5</text>
<text transform="translate(103.00,354.60) scale(0.965,1)" text-anchor="start"><tspan font-size="22.5">(</tspan><tspan dx="0.5">b</tspan><tspan font-size="22.5" dx="0.5">)</tspan></text>
<text transform="translate(706.30,359.90) scale(0.965,1)" text-anchor="end">N=100</text>
<text transform="translate(706.30,383.75) scale(0.965,1)" text-anchor="end">N=200</text>
<text transform="translate(706.30,407.60) scale(0.965,1)" text-anchor="end">N=400</text>
<text transform="translate(706.30,431.45) scale(0.965,1)" text-anchor="end">N=800</text>
</g>
<path d="M721.2,351.0H785.7" stroke="#ff0000" stroke-width="2" fill="none"/>
<rect x="749.30" y="346.90" width="8.2" height="8.2" fill="none" stroke="#ff0000" stroke-width="1.8"/>
<path d="M721.2,374.9H785.7" stroke="#228b22" stroke-width="2" fill="none"/>
<circle cx="753.40" cy="374.90" r="3.9" fill="none" stroke="#228b22" stroke-width="1.8"/>
<path d="M721.2,398.8H785.7" stroke="#0000ff" stroke-width="2" fill="none"/>
<path d="M753.40,394.80 L756.90,400.80 L749.90,400.80 Z" fill="none" stroke="#0000ff" stroke-width="1.8"/>
<path d="M721.2,422.7H785.7" stroke="#00ffff" stroke-width="2" fill="none"/>
<path d="M753.40,426.70 L756.90,420.70 L749.90,420.70 Z" fill="none" stroke="#00ffff" stroke-width="1.8"/>
<g fill="#000" stroke="none">
<path transform="translate(488.90,298.10) scale(0.02880,-0.02880) translate(-53,0)" d="M552 636C552 682 506 705 465 705C431 705 368 687 338 588C332 567 329 557 305 431H236C217 431 206 431 206 412C206 400 215 400 234 400H300L225 5C207 -92 190 -183 138 -183C134 -183 109 -183 90 -165C136 -162 145 -126 145 -111C145 -88 127 -76 108 -76C82 -76 53 -98 53 -136C53 -181 97 -205 138 -205C193 -205 233 -146 251 -108C283 -45 306 76 307 83L367 400H453C473 400 483 400 483 420C483 431 473 431 456 431H373C384 489 383 487 394 545C398 566 412 637 418 649C427 668 444 683 465 683C469 683 495 683 514 665C470 661 460 626 460 611C460 588 478 576 497 576C523 576 552 598 552 636Z"/>
<path transform="translate(489.80,671.20) scale(0.02880,-0.02880) translate(-53,0)" d="M552 636C552 682 506 705 465 705C431 705 368 687 338 588C332 567 329 557 305 431H236C217 431 206 431 206 412C206 400 215 400 234 400H300L225 5C207 -92 190 -183 138 -183C134 -183 109 -183 90 -165C136 -162 145 -126 145 -111C145 -88 127 -76 108 -76C82 -76 53 -98 53 -136C53 -181 97 -205 138 -205C193 -205 233 -146 251 -108C283 -45 306 76 307 83L367 400H453C473 400 483 400 483 420C483 431 473 431 456 431H373C384 489 383 487 394 545C398 566 412 637 418 649C427 668 444 683 465 683C469 683 495 683 514 665C470 661 460 626 460 611C460 588 478 576 497 576C523 576 552 598 552 636Z"/>
<path transform="translate(23.20,153.50) rotate(-90) scale(0.02900,-0.02900) translate(-44,0)" d="M677 162H652C647 136 643 113 634 89C629 73 626 65 568 65H488C501 121 532 169 577 235C624 306 665 375 665 454C665 593 530 705 361 705C189 705 56 591 56 454C56 375 97 306 144 235C188 169 220 121 233 65H153C95 65 92 73 87 88C79 111 74 137 69 162H44L77 0H237C259 0 262 0 262 21C262 91 231 179 208 243C187 301 159 380 159 455C159 615 269 683 360 683C456 683 562 611 562 455C562 380 535 304 506 222C491 180 459 90 459 21C459 0 462 0 485 0H644Z"/>
<path transform="translate(28.80,132.00) rotate(-90) scale(0.02090,-0.02090) translate(-75,0)" d="M567 371C567 404 543 441 490 441C433 441 381 400 330 353C288 313 255 282 214 265L313 664C314 666 317 680 317 680C317 685 313 694 301 694C281 694 198 686 173 684C165 683 151 682 151 661C151 647 165 647 177 647C225 647 225 640 225 632C225 625 223 619 221 610L80 44C75 26 75 22 75 22C75 7 87 -10 109 -10C136 -10 149 10 155 32C157 36 200 212 204 226C275 219 332 196 332 144C332 139 332 134 330 124C326 109 326 104 326 93C326 22 384 -10 432 -10C529 -10 559 143 559 143C559 156 546 156 543 156C529 156 528 151 523 132C511 89 484 18 435 18C408 18 400 43 400 70C400 87 400 89 406 115C407 118 411 135 411 146C411 235 291 249 249 252C278 270 315 303 332 318C383 366 433 413 489 413C501 413 514 410 522 400C479 393 470 359 470 344C470 322 487 307 510 307C537 307 567 329 567 371Z"/>
<path transform="translate(23.40,452.20) rotate(-90) scale(0.03050,-0.03050) translate(-42,0)" d="M491 168C491 251 436 315 304 387C199 444 157 488 157 543C157 598 199 635 261 635C306 635 348 616 383 580C414 548 428 522 444 463H469L447 676H426C422 654 411 642 394 642C384 642 368 646 350 654C313 668 277 676 242 676C203 676 161 660 129 634C90 602 71 559 71 504C71 425 115 369 227 310C299 271 351 231 376 193C385 179 390 159 390 134C390 68 340 22 267 22C177 22 115 77 65 199H42L72 -13H94C95 6 107 20 122 20C133 20 150 16 169 9C207 -6 247 -14 287 -14C403 -14 491 65 491 168Z"/>
<path transform="translate(23.40,435.90) rotate(-90) scale(0.03050,-0.03050) translate(-16,0)" d="M685 334C685 424 655 502 600 557C532 626 423 662 286 662H16V643C95 636 104 627 104 553V109C104 37 92 24 16 19V0H300C416 0 521 33 583 89C648 148 685 237 685 334ZM576 327C576 209 535 125 454 78C403 49 345 37 258 37C218 37 206 46 206 78V586C206 617 217 625 258 625C344 625 409 609 457 575C535 521 576 435 576 327Z"/>
<path transform="translate(23.00,411.50) rotate(-90) scale(0.02830,-0.02830) translate(-101,0)" d="M332 -238C332 -235 330 -232 328 -230C224 -152 155 48 155 208V292C155 452 224 652 328 730C330 732 332 735 332 738C332 743 327 748 322 748C320 748 318 747 316 746C206 663 101 463 101 292V208C101 37 206 -163 316 -246C318 -247 320 -248 322 -248C327 -248 332 -243 332 -238Z"/>
<path transform="translate(23.30,401.60) rotate(-90) scale(0.02930,-0.02930) translate(-44,0)" d="M677 162H652C647 136 643 113 634 89C629 73 626 65 568 65H488C501 121 532 169 577 235C624 306 665 375 665 454C665 593 530 705 361 705C189 705 56 591 56 454C56 375 97 306 144 235C188 169 220 121 233 65H153C95 65 92 73 87 88C79 111 74 137 69 162H44L77 0H237C259 0 262 0 262 21C262 91 231 179 208 243C187 301 159 380 159 455C159 615 269 683 360 683C456 683 562 611 562 455C562 380 535 304 506 222C491 180 459 90 459 21C459 0 462 0 485 0H644Z"/>
<path transform="translate(23.00,379.70) rotate(-90) scale(0.02830,-0.02830) translate(-57,0)" d="M288 208V292C288 463 183 663 73 746C71 747 69 748 67 748C62 748 57 743 57 738C57 735 59 732 61 730C165 652 234 452 234 292V208C234 48 165 -152 61 -230C59 -232 57 -235 57 -238C57 -243 62 -248 67 -248C69 -248 71 -247 73 -246C183 -163 288 37 288 208Z"/>
</g>
</svg></body></html>
